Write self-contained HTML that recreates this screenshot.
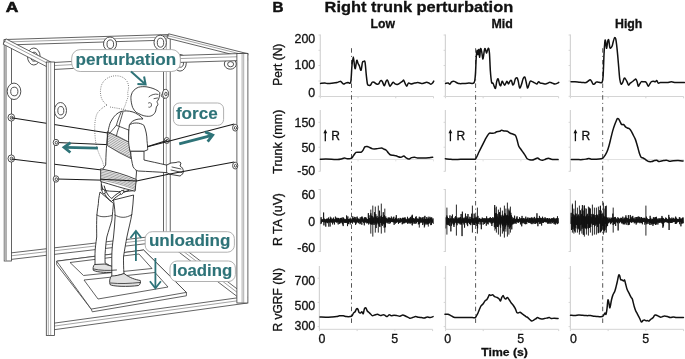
<!DOCTYPE html>
<html><head><meta charset="utf-8"><style>
html,body{margin:0;padding:0;background:#fff;}
svg{display:block;will-change:transform;}
text{font-family:"Liberation Sans",sans-serif;}
</style></head><body>
<svg width="685" height="359" viewBox="0 0 685 359">
<rect width="685" height="359" fill="#fff"/>
<text x="5.8" y="11.9" font-size="14.0" font-weight="bold" fill="#111" text-anchor="start" font-family="Liberation Sans" stroke="#111" stroke-width="0.6" textLength="12.6" lengthAdjust="spacingAndGlyphs">A</text>
<ellipse cx="33.8" cy="56.5" rx="6.3" ry="8.5" fill="#fff" stroke="#3c3c3c" stroke-width="0.9"/><ellipse cx="34.099999999999994" cy="56.7" rx="3.2" ry="4.5" fill="#fff" stroke="#3c3c3c" stroke-width="0.9"/>
<path d="M4.08,45.05 L168.08,40.05 L167.92,34.55 L3.92,39.55 Z" fill="#fff" stroke="#3c3c3c" stroke-width="0.8" stroke-linejoin="miter"/><line x1="3.99" y1="42.03" x2="167.99" y2="37.03" stroke="#666" stroke-width="0.6"/>
<path d="M8.38,259.73 L167.38,241.23 L166.62,234.77 L7.62,253.27 Z" fill="#fff" stroke="#3c3c3c" stroke-width="0.8" stroke-linejoin="miter"/><line x1="7.96" y1="256.18" x2="166.96" y2="237.68" stroke="#666" stroke-width="0.6"/>
<rect x="4.2" y="42" width="7.2" height="219" fill="#fff" stroke="#3c3c3c" stroke-width="0.8"/><rect x="4.6000000000000005" y="42.4" width="1.8" height="218.2" fill="#bbb"/><line x1="6.3" y1="42" x2="6.3" y2="261" stroke="#777" stroke-width="0.6"/>
<rect x="163.4" y="36" width="6.799999999999983" height="205" fill="#fff" stroke="#3c3c3c" stroke-width="0.8"/><line x1="166.3" y1="36" x2="166.3" y2="241" stroke="#777" stroke-width="0.6"/>
<ellipse cx="110.0" cy="44.0" rx="6.5" ry="7.0" fill="#fff" stroke="#3c3c3c" stroke-width="0.9"/><ellipse cx="110.3" cy="44.2" rx="3.3" ry="4.3" fill="#fff" stroke="#3c3c3c" stroke-width="0.9"/>
<ellipse cx="160.2" cy="42.5" rx="6.2" ry="7.3" fill="#fff" stroke="#3c3c3c" stroke-width="0.9"/><ellipse cx="160.5" cy="42.7" rx="3.2" ry="4.5" fill="#fff" stroke="#3c3c3c" stroke-width="0.9"/>
<ellipse cx="14.0" cy="91.3" rx="6.8" ry="8.2" fill="#fff" stroke="#3c3c3c" stroke-width="0.9"/><ellipse cx="14.3" cy="91.5" rx="3.6" ry="4.3" fill="#fff" stroke="#3c3c3c" stroke-width="0.9"/>
<ellipse cx="11.3" cy="117.5" rx="3.3" ry="3.6" fill="#fff" stroke="#3c3c3c" stroke-width="0.9"/><ellipse cx="11.600000000000001" cy="117.7" rx="1.4" ry="1.6" fill="#fff" stroke="#3c3c3c" stroke-width="0.9"/>
<ellipse cx="11.3" cy="158.5" rx="3.3" ry="3.6" fill="#fff" stroke="#3c3c3c" stroke-width="0.9"/><ellipse cx="11.600000000000001" cy="158.7" rx="1.4" ry="1.6" fill="#fff" stroke="#3c3c3c" stroke-width="0.9"/>
<path d="M161,96 L164.5,89.5 L164.5,98.5 Z" fill="#fff" stroke="#3c3c3c" stroke-width="0.8"/>
<ellipse cx="165.6" cy="93.8" rx="2.9" ry="4.4" fill="#fff" stroke="#3c3c3c" stroke-width="0.9"/><ellipse cx="165.9" cy="94.0" rx="1.2" ry="1.8" fill="#fff" stroke="#3c3c3c" stroke-width="0.9"/>
<ellipse cx="166.8" cy="140.5" rx="2.6" ry="3.0" fill="#fff" stroke="#3c3c3c" stroke-width="0.9"/><ellipse cx="167.10000000000002" cy="140.7" rx="1.1" ry="1.3" fill="#fff" stroke="#3c3c3c" stroke-width="0.9"/>
<path d="M107,105 C101,101 99.5,94 101,87 C102.5,80 109,75.8 116,75.8 C123,75.8 128,80 128.5,86 C129,90 127,92 128,95 C128.5,98 126.5,100 126,103 C125,106 124,108 123,110 M107,105 C102,108 98,111 96.5,115 C94.5,121 94.5,128 95,135 C95.5,145 98,152 101,158 C103,162 104,166 104,170 M110,107 C116,108 122,109 126,110" fill="none" stroke="#555" stroke-width="0.8" stroke-dasharray="0.9 1.3"/>
<path d="M56.7,261.2 L143.6,250 L186.4,292.4 L186.4,295.8 L92.3,311.8 L91.2,309.1 L56.7,264.6 Z" fill="#fff" stroke="#3a3a3a" stroke-width="0.8"/>
<path d="M56.7,261.2 L143.6,250 L186.4,292.4 L91.2,309.1 Z" fill="#fff" stroke="#3a3a3a" stroke-width="0.8"/>
<path d="M70,262.5 L139,254 L152,268.5 L83.5,275.5 Z" fill="none" stroke="#3a3a3a" stroke-width="0.8"/>
<path d="M84,280 L155,272.5 L168,287 L98,299 Z" fill="none" stroke="#3a3a3a" stroke-width="0.8"/>
<line x1="11.3" y1="117.8" x2="108" y2="133" stroke="#1a1a1a" stroke-width="1.15"/>
<line x1="56.5" y1="142.5" x2="122.5" y2="145.2" stroke="#1a1a1a" stroke-width="1.15"/>
<line x1="11.3" y1="159.0" x2="106" y2="170.5" stroke="#1a1a1a" stroke-width="1.15"/>
<line x1="56.5" y1="179.0" x2="136.5" y2="181" stroke="#1a1a1a" stroke-width="1.15"/>
<line x1="147" y1="146.7" x2="166.8" y2="140.5" stroke="#1a1a1a" stroke-width="1.15"/>
<path d="M100,192 C99,197 98.4,200 98.4,203.5 C97.5,209 96.7,215 96.7,220.2 C96.5,226 96.7,232 96.7,237 C96,243 95,249 95,253.7 C95,258 95,262 95,266 L113,268 C111,266 107,264 105.1,263 C105,258 105,256 105.1,253.7 C105.5,248 106,242 106.8,237 C108.5,231 110.5,225 111.8,220.2 C112.5,214 113,208 113.5,203.5 Z" fill="#fff" stroke="#2a2a2a" stroke-width="0.9" stroke-linejoin="round"/><path d="M94.5,264.5 C93,266 92.8,269 93.4,270.4 C98,272.5 108,273 116.8,272 C117.5,270 116.5,268 115,267 C111,266 107,265 105,264 Z" fill="#e2e2e2" stroke="#2a2a2a" stroke-width="0.9"/><path d="M113.5,200 C114.5,207 115.1,212 115.1,216.9 C115,224 114,230 113.5,237 C112.5,244 111.8,250 111.8,257 C111.8,264 111.8,270 111.8,277 L124,274 C123.5,268 123.5,262 123.5,257 C124.5,250 125.8,243 126.9,237 C128.5,229 130.8,221 131.9,213.5 C132.7,207 133.3,201 133.6,195 Z" fill="#fff" stroke="#2a2a2a" stroke-width="0.9" stroke-linejoin="round"/><path d="M111.5,276 C109.5,278 109.3,282 110,284.5 C112,286.5 128,287 138.6,285.5 C140.5,284 140.8,282 140.3,280.5 C135,279.5 130,278 124,273.5 C120,275 115,276 111.5,276 Z" fill="#e2e2e2" stroke="#2a2a2a" stroke-width="0.9"/><path d="M110.5,283 C120,284 130,283.5 140,282.5 M93.5,269 C100,270.5 108,270.8 116.5,270" fill="none" stroke="#2a2a2a" stroke-width="0.8" stroke-linecap="round"/><path d="M96.8,215 C100,217 105,217.5 112,215.5 M114.8,215 C120,218 126,218.5 132,214.5" fill="none" stroke="#2a2a2a" stroke-width="0.8" stroke-linecap="round"/><path d="M121,111.5 C117,113 114.5,116 113.3,117.7 C111,121 110,123 109.5,125.3 C108.6,128 108.2,131 108,133 C107,140 106.5,145 106.4,148.3 C106,155 105.8,160 105.7,165 L101.3,171 L101.3,190 C112,192 125,192 135,190.5 L136.5,172 C136,168 135,162 133,157 L130.1,151.3 L129.4,125.3 C131,121 136,118.5 143,119 C141,116 136,113 133,112 C128,110.5 124,110.8 121,111.5 Z" fill="#fff" stroke="#2a2a2a" stroke-width="0.9" stroke-linejoin="round"/><clipPath id="vc"><path d="M107.3,131.7 L118,136.5 L130.7,143 L131,158.5 L119,152.5 L107.3,145.5 Z"/></clipPath><g clip-path="url(#vc)"><line x1="105" y1="114.4" x2="133" y2="127.4" stroke="#444" stroke-width="0.5"/><line x1="105" y1="116.1" x2="133" y2="129.1" stroke="#444" stroke-width="0.5"/><line x1="105" y1="117.8" x2="133" y2="130.8" stroke="#444" stroke-width="0.5"/><line x1="105" y1="119.5" x2="133" y2="132.5" stroke="#444" stroke-width="0.5"/><line x1="105" y1="121.2" x2="133" y2="134.2" stroke="#444" stroke-width="0.5"/><line x1="105" y1="122.9" x2="133" y2="135.9" stroke="#444" stroke-width="0.5"/><line x1="105" y1="124.6" x2="133" y2="137.6" stroke="#444" stroke-width="0.5"/><line x1="105" y1="126.3" x2="133" y2="139.3" stroke="#444" stroke-width="0.5"/><line x1="105" y1="128.0" x2="133" y2="141.0" stroke="#444" stroke-width="0.5"/><line x1="105" y1="129.7" x2="133" y2="142.7" stroke="#444" stroke-width="0.5"/><line x1="105" y1="131.4" x2="133" y2="144.4" stroke="#444" stroke-width="0.5"/><line x1="105" y1="133.1" x2="133" y2="146.1" stroke="#444" stroke-width="0.5"/><line x1="105" y1="134.8" x2="133" y2="147.8" stroke="#444" stroke-width="0.5"/><line x1="105" y1="136.5" x2="133" y2="149.5" stroke="#444" stroke-width="0.5"/><line x1="105" y1="138.2" x2="133" y2="151.2" stroke="#444" stroke-width="0.5"/><line x1="105" y1="139.9" x2="133" y2="152.9" stroke="#444" stroke-width="0.5"/><line x1="105" y1="141.6" x2="133" y2="154.6" stroke="#444" stroke-width="0.5"/><line x1="105" y1="143.3" x2="133" y2="156.3" stroke="#444" stroke-width="0.5"/><line x1="105" y1="145.0" x2="133" y2="158.0" stroke="#444" stroke-width="0.5"/><line x1="105" y1="146.7" x2="133" y2="159.7" stroke="#444" stroke-width="0.5"/><line x1="105" y1="148.4" x2="133" y2="161.4" stroke="#444" stroke-width="0.5"/><line x1="105" y1="150.1" x2="133" y2="163.1" stroke="#444" stroke-width="0.5"/><line x1="105" y1="151.8" x2="133" y2="164.8" stroke="#444" stroke-width="0.5"/><line x1="105" y1="153.5" x2="133" y2="166.5" stroke="#444" stroke-width="0.5"/></g><path d="M107.3,131.7 L118,136.5 L130.7,143 L131,158.5 L119,152.5 L107.3,145.5 Z" fill="none" stroke="#2a2a2a" stroke-width="0.8"/><path d="M121,112.5 C119,117 117.5,121 116.4,125.3 L128.6,130 M116.4,125.3 L109.5,133.5 M123,112 C121.5,117 120,122 119,126 M116.4,136 C117.5,131 118.5,128 119.5,126.5 M128.6,130 L129,142" fill="none" stroke="#2a2a2a" stroke-width="0.8" stroke-linecap="round"/><path d="M100.7,168.8 C113,171 126,175 136.3,179.5 L135,191.2 C123,188.5 111,184.5 100.7,181.5 Z" fill="#fff" stroke="#2a2a2a" stroke-width="0.9" stroke-linejoin="round"/><path d="M100.7,170.4 C113,172.6 126,177.0 136.1,181.0" fill="none" stroke="#555" stroke-width="0.55"/><path d="M100.7,172.0 C113,174.2 126,178.4 136.0,182.4" fill="none" stroke="#555" stroke-width="0.55"/><path d="M100.7,173.6 C113,175.8 126,179.9 135.8,183.9" fill="none" stroke="#555" stroke-width="0.55"/><path d="M100.7,175.2 C113,177.3 126,181.3 135.7,185.3" fill="none" stroke="#555" stroke-width="0.55"/><path d="M100.7,176.7 C113,178.9 126,182.8 135.5,186.8" fill="none" stroke="#555" stroke-width="0.55"/><path d="M100.7,178.3 C113,180.5 126,184.3 135.3,188.3" fill="none" stroke="#555" stroke-width="0.55"/><path d="M100.7,179.9 C113,182.1 126,185.7 135.2,189.7" fill="none" stroke="#555" stroke-width="0.55"/><path d="M101.5,184.5 C103,192 106.5,198.5 111.5,201.5 C115.5,197 121,193 128.5,190.5 M104.2,186 C106,192.5 108.5,196.5 111.8,198.5 C115,195 119,192 124,190" fill="none" stroke="#2a2a2a" stroke-width="1.0" stroke-linecap="round"/><rect x="102.3" y="189.5" width="2.6" height="4" fill="#fff" stroke="#2a2a2a" stroke-width="0.7" transform="rotate(-20 103.6 191.5)"/><rect x="120.5" y="190.5" width="2.6" height="3.6" fill="#fff" stroke="#2a2a2a" stroke-width="0.7" transform="rotate(40 121.8 192.3)"/><path d="M129.4,125.3 C131,123.5 133.5,123 136.3,123 C139.5,123 142,124 143.9,125.3 C146,130 147,136 147,140.6 C147.5,145 147.7,148 147.7,149.8 L143.9,151.3 L130.1,151.3 C129,147 128.6,143 128.6,140.6 C128.6,134 128.8,129 129.4,125.3 Z" fill="#fff" stroke="#2a2a2a" stroke-width="0.9" stroke-linejoin="round"/><path d="M130.6,151.3 C131,157 132,163 133.1,166.8 C134.5,169 136,170.5 138.1,171 C148,171.5 158,172 166.6,172.6 L170,174.3 L180,176 C182,175 183.5,173 183.3,171.8 C183.5,169 182,167 180,166 L181,163 C180,161.5 178.3,161.7 176,162.5 L171,163 L166.6,165.1 C158,163 150,161.5 144,160 L144,151.3 Z" fill="#fff" stroke="#2a2a2a" stroke-width="0.9" stroke-linejoin="round"/><path d="M172,167 L181,169 M171,170 L182,172.5 M166.6,165.1 L166.6,172.6" fill="none" stroke="#2a2a2a" stroke-width="0.8" stroke-linecap="round"/><g transform="translate(0,86.9) scale(1,0.955) translate(0,-88.2)"><path d="M132.7,109.9 C131,105 130.5,99 131.3,96.7 C132,93 135,90 138.3,88.6 C141,87.8 144.5,87.8 147,88.2 C151.5,89 155,90.5 157,91.8 C159,93 160,94 159.8,94.6 C159.6,97 159.4,98.5 159.1,99.5 C158.6,101.5 157.5,102.8 157,103.7 C157.3,105 158.2,106.3 157.8,107.1 C157.3,108 156.6,108.6 156.4,109.2 C156.2,110.5 156,112 155.7,113.4 C155,115.5 154,116.8 152.9,117.6 C151.5,118.6 150,119 148.7,119 C146,119 143.5,118.5 141.7,117.6 C139.5,116.6 137.5,115.5 136.2,114.8 C134.8,113.5 133.5,111.8 132.7,109.9 Z" fill="#fff" stroke="#2a2a2a" stroke-width="0.9" stroke-linejoin="round"/><path d="M148.5,105 C150,104 151.5,105 151.5,107 C151.5,109 150,110 148.8,109.5 M154,100.5 L157.5,99.8 M158,96 C155,95 151,96.5 149,98.5" fill="none" stroke="#2a2a2a" stroke-width="0.8" stroke-linecap="round"/></g>
<line x1="147.5" y1="146.7" x2="234.3" y2="124" stroke="#1a1a1a" stroke-width="1.15"/>
<line x1="100.5" y1="179.3" x2="136.5" y2="181" stroke="#1a1a1a" stroke-width="1.15"/>
<line x1="136.5" y1="181" x2="168.3" y2="174.3" stroke="#1a1a1a" stroke-width="1.15"/>
<line x1="168.3" y1="174.3" x2="234.3" y2="162" stroke="#1a1a1a" stroke-width="1.15"/>
<ellipse cx="180.0" cy="62.8" rx="6.3" ry="8.3" fill="#fff" stroke="#3c3c3c" stroke-width="0.9"/><ellipse cx="180.3" cy="63.0" rx="3.2" ry="4.2" fill="#fff" stroke="#3c3c3c" stroke-width="0.9"/>
<ellipse cx="230.3" cy="64.0" rx="6.0" ry="5.2" fill="#fff" stroke="#3c3c3c" stroke-width="0.9"/><ellipse cx="230.60000000000002" cy="64.2" rx="3.0" ry="2.6" fill="#fff" stroke="#3c3c3c" stroke-width="0.9"/>
<ellipse cx="60.5" cy="110.5" rx="6.0" ry="8.0" fill="#fff" stroke="#3c3c3c" stroke-width="0.9"/><ellipse cx="60.8" cy="110.7" rx="3.0" ry="4.2" fill="#fff" stroke="#3c3c3c" stroke-width="0.9"/>
<path d="M3.12,44.17 L49.62,68.17 L52.38,62.83 L5.88,38.83 Z" fill="#fff" stroke="#3c3c3c" stroke-width="0.8" stroke-linejoin="miter"/><line x1="4.64" y1="41.23" x2="51.14" y2="65.23" stroke="#666" stroke-width="0.6"/>
<path d="M167.45,38.18 L246.95,58.18 L248.05,53.82 L168.55,33.82 Z" fill="#fff" stroke="#3c3c3c" stroke-width="0.8" stroke-linejoin="miter"/><line x1="168.05" y1="35.78" x2="247.55" y2="55.78" stroke="#666" stroke-width="0.6"/>
<path d="M50.19,69.69 L181.19,62.39 L180.81,55.41 L49.81,62.71 Z" fill="#fff" stroke="#3c3c3c" stroke-width="0.8" stroke-linejoin="miter"/><line x1="49.98" y1="65.85" x2="180.98" y2="58.55" stroke="#666" stroke-width="0.6"/>
<path d="M180.11,62.40 L247.61,60.30 L247.39,53.30 L179.89,55.40 Z" fill="#fff" stroke="#3c3c3c" stroke-width="0.8" stroke-linejoin="miter"/><line x1="179.99" y1="58.55" x2="247.49" y2="56.45" stroke="#666" stroke-width="0.6"/>
<path d="M166.18,242.39 L244.18,301.89 L247.82,297.11 L169.82,237.61 Z" fill="#fff" stroke="#3c3c3c" stroke-width="0.8" stroke-linejoin="miter"/><line x1="168.18" y1="239.76" x2="246.18" y2="299.26" stroke="#666" stroke-width="0.6"/>
<path d="M50.44,330.22 L247.44,303.02 L246.56,296.58 L49.56,323.78 Z" fill="#fff" stroke="#3c3c3c" stroke-width="0.8" stroke-linejoin="miter"/><line x1="49.96" y1="326.68" x2="246.96" y2="299.48" stroke="#666" stroke-width="0.6"/>
<rect x="46.3" y="62" width="8.100000000000001" height="273.5" fill="#fff" stroke="#3c3c3c" stroke-width="0.8"/><line x1="48.3" y1="62" x2="48.3" y2="335.5" stroke="#777" stroke-width="0.6"/><line x1="50.7" y1="62" x2="50.7" y2="335.5" stroke="#777" stroke-width="0.6"/>
<rect x="236.9" y="53.5" width="11.0" height="249.5" fill="#fff" stroke="#3c3c3c" stroke-width="0.8"/><line x1="242.1" y1="53.5" x2="242.1" y2="303" stroke="#777" stroke-width="0.6"/><line x1="243.7" y1="53.5" x2="243.7" y2="303" stroke="#777" stroke-width="0.6"/>
<ellipse cx="56.0" cy="142.5" rx="2.8" ry="3.2" fill="#fff" stroke="#3c3c3c" stroke-width="0.9"/><ellipse cx="56.3" cy="142.7" rx="1.2" ry="1.4" fill="#fff" stroke="#3c3c3c" stroke-width="0.9"/>
<ellipse cx="56.0" cy="179.0" rx="2.8" ry="3.2" fill="#fff" stroke="#3c3c3c" stroke-width="0.9"/><ellipse cx="56.3" cy="179.2" rx="1.2" ry="1.4" fill="#fff" stroke="#3c3c3c" stroke-width="0.9"/>
<ellipse cx="235.2" cy="127.7" rx="2.6" ry="3.4" fill="#fff" stroke="#3c3c3c" stroke-width="0.9"/><ellipse cx="235.5" cy="127.9" rx="1.1" ry="1.4" fill="#fff" stroke="#3c3c3c" stroke-width="0.9"/>
<ellipse cx="235.2" cy="165.6" rx="2.6" ry="3.4" fill="#fff" stroke="#3c3c3c" stroke-width="0.9"/><ellipse cx="235.5" cy="165.79999999999998" rx="1.1" ry="1.4" fill="#fff" stroke="#3c3c3c" stroke-width="0.9"/>
<rect x="71.7" y="49.6" width="108.60000000000001" height="21.9" rx="8.5" ry="8.5" fill="#fff" stroke="#a8a8a8" stroke-width="0.9"/><text x="75.6" y="64.5" font-size="16" font-weight="bold" fill="#2e7378" text-anchor="start" font-family="Liberation Sans" stroke="#2e7378" stroke-width="0.12" textLength="100.5" lengthAdjust="spacingAndGlyphs">perturbation</text>
<rect x="173.4" y="103.0" width="50.19999999999999" height="22.400000000000006" rx="6" ry="6" fill="#fff" stroke="#a8a8a8" stroke-width="0.9"/><text x="175.9" y="119.3" font-size="16" font-weight="bold" fill="#2e7378" text-anchor="start" font-family="Liberation Sans" stroke="#2e7378" stroke-width="0.12" textLength="41.8" lengthAdjust="spacingAndGlyphs">force</text>
<rect x="145.2" y="231.7" width="89.20000000000002" height="20.5" rx="7" ry="7" fill="#fff" stroke="#a8a8a8" stroke-width="0.9"/><text x="148.9" y="246.3" font-size="16" font-weight="bold" fill="#2e7378" text-anchor="start" font-family="Liberation Sans" stroke="#2e7378" stroke-width="0.12" textLength="81.6" lengthAdjust="spacingAndGlyphs">unloading</text>
<rect x="170.0" y="261.0" width="65.4" height="20.5" rx="7" ry="7" fill="#fff" stroke="#a8a8a8" stroke-width="0.9"/><text x="172.6" y="276.4" font-size="16" font-weight="bold" fill="#2e7378" text-anchor="start" font-family="Liberation Sans" stroke="#2e7378" stroke-width="0.12" textLength="59.7" lengthAdjust="spacingAndGlyphs">loading</text>
<line x1="131" y1="71.5" x2="145.00" y2="83.97" stroke="#2e7378" stroke-width="2.0" stroke-linecap="butt"/><path d="M137.42,83.91 L145.60,84.50 L144.07,76.44" fill="none" stroke="#2e7378" stroke-width="2.0" stroke-linejoin="miter" stroke-linecap="butt"/>
<line x1="97.9" y1="148.1" x2="64.80" y2="147.42" stroke="#2e7378" stroke-width="2.8" stroke-linecap="butt"/><path d="M70.60,142.54 L64.00,147.40 L70.40,152.53" fill="none" stroke="#2e7378" stroke-width="2.8" stroke-linejoin="miter" stroke-linecap="butt"/>
<line x1="179.2" y1="143.8" x2="211.93" y2="135.30" stroke="#2e7378" stroke-width="2.8" stroke-linecap="butt"/><path d="M207.67,141.57 L212.70,135.10 L205.15,131.89" fill="none" stroke="#2e7378" stroke-width="2.8" stroke-linejoin="miter" stroke-linecap="butt"/>
<line x1="135.9" y1="261" x2="135.90" y2="231.80" stroke="#2e7378" stroke-width="1.8" stroke-linecap="butt"/><path d="M141.40,238.00 L135.90,231.00 L130.40,238.00" fill="none" stroke="#2e7378" stroke-width="1.8" stroke-linejoin="miter" stroke-linecap="butt"/>
<line x1="155.4" y1="258" x2="155.40" y2="287.50" stroke="#2e7378" stroke-width="1.8" stroke-linecap="butt"/><path d="M149.90,281.30 L155.40,288.30 L160.90,281.30" fill="none" stroke="#2e7378" stroke-width="1.8" stroke-linejoin="miter" stroke-linecap="butt"/>
<text x="272.4" y="11.8" font-size="15" font-weight="bold" fill="#111" text-anchor="start" font-family="Liberation Sans" stroke="#111" stroke-width="0.5" textLength="11.0" lengthAdjust="spacingAndGlyphs">B</text>
<text x="324.6" y="11.8" font-size="15" font-weight="bold" fill="#111" text-anchor="start" font-family="Liberation Sans" stroke="#111" stroke-width="0.3" textLength="188.6" lengthAdjust="spacingAndGlyphs">Right trunk perturbation</text>
<text x="370.6" y="27.7" font-size="12.1" font-weight="bold" fill="#111" text-anchor="start" font-family="Liberation Sans" stroke="#111" stroke-width="0.3" textLength="24.4" lengthAdjust="spacingAndGlyphs">Low</text>
<text x="491.5" y="27.7" font-size="12.1" font-weight="bold" fill="#111" text-anchor="start" font-family="Liberation Sans" stroke="#111" stroke-width="0.3" textLength="21.3" lengthAdjust="spacingAndGlyphs">Mid</text>
<text x="615.0" y="27.7" font-size="12.1" font-weight="bold" fill="#111" text-anchor="start" font-family="Liberation Sans" stroke="#111" stroke-width="0.3" textLength="27.4" lengthAdjust="spacingAndGlyphs">High</text>
<text x="282.2" y="64.7" font-size="12" font-weight="normal" fill="#111" text-anchor="middle" font-family="Liberation Sans" stroke="#111" stroke-width="0.3" textLength="42.0" lengthAdjust="spacingAndGlyphs" transform="rotate(-90 282.2 64.7)">Pert (N)</text>
<text x="282.2" y="141.7" font-size="12" font-weight="normal" fill="#111" text-anchor="middle" font-family="Liberation Sans" stroke="#111" stroke-width="0.3" textLength="64.0" lengthAdjust="spacingAndGlyphs" transform="rotate(-90 282.2 141.7)">Trunk (mm)</text>
<text x="282.2" y="219.5" font-size="12" font-weight="normal" fill="#111" text-anchor="middle" font-family="Liberation Sans" stroke="#111" stroke-width="0.3" textLength="53.0" lengthAdjust="spacingAndGlyphs" transform="rotate(-90 282.2 219.5)">R TA (uV)</text>
<text x="282.2" y="299.8" font-size="12" font-weight="normal" fill="#111" text-anchor="middle" font-family="Liberation Sans" stroke="#111" stroke-width="0.3" textLength="63.5" lengthAdjust="spacingAndGlyphs" transform="rotate(-90 282.2 299.8)">R vGRF (N)</text>
<text x="315.2" y="42.6" font-size="12.4" font-weight="normal" fill="#111" text-anchor="end" font-family="Liberation Sans" stroke="#111" stroke-width="0.3">200</text>
<text x="315.2" y="69.4" font-size="12.4" font-weight="normal" fill="#111" text-anchor="end" font-family="Liberation Sans" stroke="#111" stroke-width="0.3">100</text>
<text x="315.2" y="96.60000000000001" font-size="12.4" font-weight="normal" fill="#111" text-anchor="end" font-family="Liberation Sans" stroke="#111" stroke-width="0.3">0</text>
<text x="315.2" y="127.0" font-size="12.4" font-weight="normal" fill="#111" text-anchor="end" font-family="Liberation Sans" stroke="#111" stroke-width="0.3">150</text>
<text x="315.2" y="151.6" font-size="12.4" font-weight="normal" fill="#111" text-anchor="end" font-family="Liberation Sans" stroke="#111" stroke-width="0.3">50</text>
<text x="315.2" y="175.3" font-size="12.4" font-weight="normal" fill="#111" text-anchor="end" font-family="Liberation Sans" stroke="#111" stroke-width="0.3">-50</text>
<text x="315.2" y="198.9" font-size="12.4" font-weight="normal" fill="#111" text-anchor="end" font-family="Liberation Sans" stroke="#111" stroke-width="0.3">60</text>
<text x="315.2" y="225.6" font-size="12.4" font-weight="normal" fill="#111" text-anchor="end" font-family="Liberation Sans" stroke="#111" stroke-width="0.3">0</text>
<text x="315.2" y="252.4" font-size="12.4" font-weight="normal" fill="#111" text-anchor="end" font-family="Liberation Sans" stroke="#111" stroke-width="0.3">-60</text>
<text x="315.2" y="284.9" font-size="12.4" font-weight="normal" fill="#111" text-anchor="end" font-family="Liberation Sans" stroke="#111" stroke-width="0.3">700</text>
<text x="315.2" y="310.09999999999997" font-size="12.4" font-weight="normal" fill="#111" text-anchor="end" font-family="Liberation Sans" stroke="#111" stroke-width="0.3">500</text>
<text x="315.2" y="330.09999999999997" font-size="12.4" font-weight="normal" fill="#111" text-anchor="end" font-family="Liberation Sans" stroke="#111" stroke-width="0.3">300</text>
<text x="321.9" y="342.6" font-size="12.4" font-weight="normal" fill="#111" text-anchor="middle" font-family="Liberation Sans" stroke="#111" stroke-width="0.3">0</text>
<text x="394.7" y="342.6" font-size="12.4" font-weight="normal" fill="#111" text-anchor="middle" font-family="Liberation Sans" stroke="#111" stroke-width="0.3">5</text>
<text x="447.7" y="342.6" font-size="12.4" font-weight="normal" fill="#111" text-anchor="middle" font-family="Liberation Sans" stroke="#111" stroke-width="0.3">0</text>
<text x="520.8" y="342.6" font-size="12.4" font-weight="normal" fill="#111" text-anchor="middle" font-family="Liberation Sans" stroke="#111" stroke-width="0.3">5</text>
<text x="573.4" y="342.6" font-size="12.4" font-weight="normal" fill="#111" text-anchor="middle" font-family="Liberation Sans" stroke="#111" stroke-width="0.3">0</text>
<text x="645.6999999999999" y="342.6" font-size="12.4" font-weight="normal" fill="#111" text-anchor="middle" font-family="Liberation Sans" stroke="#111" stroke-width="0.3">5</text>
<text x="504.6" y="355.8" font-size="11.5" font-weight="bold" fill="#111" text-anchor="middle" font-family="Liberation Sans" stroke="#111" stroke-width="0.3" textLength="46.5" lengthAdjust="spacingAndGlyphs">Time (s)</text>
<line x1="320.3" y1="34.5" x2="320.3" y2="96.5" stroke="#d4d4d4" stroke-width="1.2"/><line x1="318.5" y1="35" x2="320.3" y2="35" stroke="#d4d4d4" stroke-width="1"/><line x1="318.5" y1="50.3" x2="320.3" y2="50.3" stroke="#d4d4d4" stroke-width="1"/><line x1="318.5" y1="65.5" x2="320.3" y2="65.5" stroke="#d4d4d4" stroke-width="1"/><line x1="318.5" y1="81" x2="320.3" y2="81" stroke="#d4d4d4" stroke-width="1"/><line x1="318.5" y1="96.3" x2="320.3" y2="96.3" stroke="#d4d4d4" stroke-width="1"/>
<line x1="320.3" y1="96.5" x2="433.5" y2="96.5" stroke="#d4d4d4" stroke-width="1"/><line x1="320.3" y1="96.5" x2="320.3" y2="98.3" stroke="#d4d4d4" stroke-width="1"/><line x1="358.03333333333336" y1="96.5" x2="358.03333333333336" y2="98.3" stroke="#d4d4d4" stroke-width="1"/><line x1="395.76666666666665" y1="96.5" x2="395.76666666666665" y2="98.3" stroke="#d4d4d4" stroke-width="1"/><line x1="433.5" y1="96.5" x2="433.5" y2="98.3" stroke="#d4d4d4" stroke-width="1"/>
<line x1="320.3" y1="110.0" x2="320.3" y2="171.5" stroke="#d4d4d4" stroke-width="1.2"/><line x1="318.5" y1="122.3" x2="320.3" y2="122.3" stroke="#d4d4d4" stroke-width="1"/><line x1="318.5" y1="147.2" x2="320.3" y2="147.2" stroke="#d4d4d4" stroke-width="1"/><line x1="318.5" y1="171.3" x2="320.3" y2="171.3" stroke="#d4d4d4" stroke-width="1"/>
<line x1="320.3" y1="159.5" x2="433.5" y2="159.5" stroke="#e2e2e2" stroke-width="1.2"/>
<line x1="358.0" y1="159.5" x2="358.0" y2="161.4" stroke="#e2e2e2" stroke-width="1"/>
<line x1="395.8" y1="159.5" x2="395.8" y2="161.4" stroke="#e2e2e2" stroke-width="1"/>
<line x1="433.5" y1="159.5" x2="433.5" y2="161.4" stroke="#e2e2e2" stroke-width="1"/>
<line x1="320.3" y1="189.0" x2="320.3" y2="252.0" stroke="#d4d4d4" stroke-width="1.2"/><line x1="318.5" y1="189.5" x2="320.3" y2="189.5" stroke="#d4d4d4" stroke-width="1"/><line x1="318.5" y1="251.5" x2="320.3" y2="251.5" stroke="#d4d4d4" stroke-width="1"/>
<line x1="445.4" y1="34.5" x2="445.4" y2="96.5" stroke="#d4d4d4" stroke-width="1.2"/><line x1="443.59999999999997" y1="35" x2="445.4" y2="35" stroke="#d4d4d4" stroke-width="1"/><line x1="443.59999999999997" y1="50.3" x2="445.4" y2="50.3" stroke="#d4d4d4" stroke-width="1"/><line x1="443.59999999999997" y1="65.5" x2="445.4" y2="65.5" stroke="#d4d4d4" stroke-width="1"/><line x1="443.59999999999997" y1="81" x2="445.4" y2="81" stroke="#d4d4d4" stroke-width="1"/><line x1="443.59999999999997" y1="96.3" x2="445.4" y2="96.3" stroke="#d4d4d4" stroke-width="1"/>
<line x1="445.4" y1="96.5" x2="558.6" y2="96.5" stroke="#d4d4d4" stroke-width="1"/><line x1="445.4" y1="96.5" x2="445.4" y2="98.3" stroke="#d4d4d4" stroke-width="1"/><line x1="483.1333333333333" y1="96.5" x2="483.1333333333333" y2="98.3" stroke="#d4d4d4" stroke-width="1"/><line x1="520.8666666666667" y1="96.5" x2="520.8666666666667" y2="98.3" stroke="#d4d4d4" stroke-width="1"/><line x1="558.6" y1="96.5" x2="558.6" y2="98.3" stroke="#d4d4d4" stroke-width="1"/>
<line x1="445.4" y1="110.0" x2="445.4" y2="171.5" stroke="#d4d4d4" stroke-width="1.2"/><line x1="443.59999999999997" y1="122.3" x2="445.4" y2="122.3" stroke="#d4d4d4" stroke-width="1"/><line x1="443.59999999999997" y1="147.2" x2="445.4" y2="147.2" stroke="#d4d4d4" stroke-width="1"/><line x1="443.59999999999997" y1="171.3" x2="445.4" y2="171.3" stroke="#d4d4d4" stroke-width="1"/>
<line x1="445.4" y1="159.5" x2="558.6" y2="159.5" stroke="#e2e2e2" stroke-width="1.2"/>
<line x1="483.1" y1="159.5" x2="483.1" y2="161.4" stroke="#e2e2e2" stroke-width="1"/>
<line x1="520.9" y1="159.5" x2="520.9" y2="161.4" stroke="#e2e2e2" stroke-width="1"/>
<line x1="558.6" y1="159.5" x2="558.6" y2="161.4" stroke="#e2e2e2" stroke-width="1"/>
<line x1="445.4" y1="189.0" x2="445.4" y2="252.0" stroke="#d4d4d4" stroke-width="1.2"/><line x1="443.59999999999997" y1="189.5" x2="445.4" y2="189.5" stroke="#d4d4d4" stroke-width="1"/><line x1="443.59999999999997" y1="251.5" x2="445.4" y2="251.5" stroke="#d4d4d4" stroke-width="1"/>
<line x1="570.4" y1="34.5" x2="570.4" y2="96.5" stroke="#d4d4d4" stroke-width="1.2"/><line x1="568.6" y1="35" x2="570.4" y2="35" stroke="#d4d4d4" stroke-width="1"/><line x1="568.6" y1="50.3" x2="570.4" y2="50.3" stroke="#d4d4d4" stroke-width="1"/><line x1="568.6" y1="65.5" x2="570.4" y2="65.5" stroke="#d4d4d4" stroke-width="1"/><line x1="568.6" y1="81" x2="570.4" y2="81" stroke="#d4d4d4" stroke-width="1"/><line x1="568.6" y1="96.3" x2="570.4" y2="96.3" stroke="#d4d4d4" stroke-width="1"/>
<line x1="570.4" y1="96.5" x2="683.6" y2="96.5" stroke="#d4d4d4" stroke-width="1"/><line x1="570.4" y1="96.5" x2="570.4" y2="98.3" stroke="#d4d4d4" stroke-width="1"/><line x1="608.1333333333333" y1="96.5" x2="608.1333333333333" y2="98.3" stroke="#d4d4d4" stroke-width="1"/><line x1="645.8666666666667" y1="96.5" x2="645.8666666666667" y2="98.3" stroke="#d4d4d4" stroke-width="1"/><line x1="683.6" y1="96.5" x2="683.6" y2="98.3" stroke="#d4d4d4" stroke-width="1"/>
<line x1="570.4" y1="110.0" x2="570.4" y2="171.5" stroke="#d4d4d4" stroke-width="1.2"/><line x1="568.6" y1="122.3" x2="570.4" y2="122.3" stroke="#d4d4d4" stroke-width="1"/><line x1="568.6" y1="147.2" x2="570.4" y2="147.2" stroke="#d4d4d4" stroke-width="1"/><line x1="568.6" y1="171.3" x2="570.4" y2="171.3" stroke="#d4d4d4" stroke-width="1"/>
<line x1="570.4" y1="159.5" x2="683.6" y2="159.5" stroke="#e2e2e2" stroke-width="1.2"/>
<line x1="608.1" y1="159.5" x2="608.1" y2="161.4" stroke="#e2e2e2" stroke-width="1"/>
<line x1="645.9" y1="159.5" x2="645.9" y2="161.4" stroke="#e2e2e2" stroke-width="1"/>
<line x1="683.6" y1="159.5" x2="683.6" y2="161.4" stroke="#e2e2e2" stroke-width="1"/>
<line x1="570.4" y1="189.0" x2="570.4" y2="252.0" stroke="#d4d4d4" stroke-width="1.2"/><line x1="568.6" y1="189.5" x2="570.4" y2="189.5" stroke="#d4d4d4" stroke-width="1"/><line x1="568.6" y1="251.5" x2="570.4" y2="251.5" stroke="#d4d4d4" stroke-width="1"/>
<line x1="319.4" y1="266.0" x2="319.4" y2="329.3" stroke="#d4d4d4" stroke-width="1.2"/><line x1="317.59999999999997" y1="278.2" x2="319.4" y2="278.2" stroke="#d4d4d4" stroke-width="1"/><line x1="317.59999999999997" y1="302.4" x2="319.4" y2="302.4" stroke="#d4d4d4" stroke-width="1"/><line x1="317.59999999999997" y1="326.6" x2="319.4" y2="326.6" stroke="#d4d4d4" stroke-width="1"/>
<line x1="319.4" y1="329.3" x2="432.59999999999997" y2="329.3" stroke="#d4d4d4" stroke-width="1"/><line x1="319.4" y1="329.3" x2="319.4" y2="331.1" stroke="#d4d4d4" stroke-width="1"/><line x1="357.1333333333333" y1="329.3" x2="357.1333333333333" y2="331.1" stroke="#d4d4d4" stroke-width="1"/><line x1="394.8666666666667" y1="329.3" x2="394.8666666666667" y2="331.1" stroke="#d4d4d4" stroke-width="1"/><line x1="432.59999999999997" y1="329.3" x2="432.59999999999997" y2="331.1" stroke="#d4d4d4" stroke-width="1"/>
<line x1="445.5" y1="266.0" x2="445.5" y2="329.3" stroke="#d4d4d4" stroke-width="1.2"/><line x1="443.7" y1="278.2" x2="445.5" y2="278.2" stroke="#d4d4d4" stroke-width="1"/><line x1="443.7" y1="302.4" x2="445.5" y2="302.4" stroke="#d4d4d4" stroke-width="1"/><line x1="443.7" y1="326.6" x2="445.5" y2="326.6" stroke="#d4d4d4" stroke-width="1"/>
<line x1="445.5" y1="329.3" x2="558.7" y2="329.3" stroke="#d4d4d4" stroke-width="1"/><line x1="445.5" y1="329.3" x2="445.5" y2="331.1" stroke="#d4d4d4" stroke-width="1"/><line x1="483.23333333333335" y1="329.3" x2="483.23333333333335" y2="331.1" stroke="#d4d4d4" stroke-width="1"/><line x1="520.9666666666667" y1="329.3" x2="520.9666666666667" y2="331.1" stroke="#d4d4d4" stroke-width="1"/><line x1="558.7" y1="329.3" x2="558.7" y2="331.1" stroke="#d4d4d4" stroke-width="1"/>
<line x1="570.4" y1="266.0" x2="570.4" y2="329.3" stroke="#d4d4d4" stroke-width="1.2"/><line x1="568.6" y1="278.2" x2="570.4" y2="278.2" stroke="#d4d4d4" stroke-width="1"/><line x1="568.6" y1="302.4" x2="570.4" y2="302.4" stroke="#d4d4d4" stroke-width="1"/><line x1="568.6" y1="326.6" x2="570.4" y2="326.6" stroke="#d4d4d4" stroke-width="1"/>
<line x1="570.4" y1="329.3" x2="683.6" y2="329.3" stroke="#d4d4d4" stroke-width="1"/><line x1="570.4" y1="329.3" x2="570.4" y2="331.1" stroke="#d4d4d4" stroke-width="1"/><line x1="608.1333333333333" y1="329.3" x2="608.1333333333333" y2="331.1" stroke="#d4d4d4" stroke-width="1"/><line x1="645.8666666666667" y1="329.3" x2="645.8666666666667" y2="331.1" stroke="#d4d4d4" stroke-width="1"/><line x1="683.6" y1="329.3" x2="683.6" y2="331.1" stroke="#d4d4d4" stroke-width="1"/>
<line x1="351.5" y1="46.6" x2="351.5" y2="326" stroke="#555" stroke-width="1" stroke-dasharray="4.5 3.2 1 3.05" stroke-dashoffset="-1.6"/>
<line x1="475.6" y1="46.6" x2="475.6" y2="326" stroke="#555" stroke-width="1" stroke-dasharray="4.5 3.2 1 3.05" stroke-dashoffset="-1.6"/>
<line x1="602.7" y1="46.6" x2="602.7" y2="326" stroke="#555" stroke-width="1" stroke-dasharray="4.5 3.2 1 3.05" stroke-dashoffset="-1.6"/>
<path d="M320.58,83.45 C321.30,83.39 323.60,83.07 324.89,83.10 C326.18,83.13 326.90,83.65 328.34,83.62 C329.77,83.59 332.07,83.10 333.50,82.93 C334.94,82.76 335.86,82.84 336.95,82.59 C338.04,82.33 339.33,81.49 340.05,81.38 C340.77,81.26 340.68,81.47 341.26,81.90 C341.83,82.33 342.78,83.76 343.50,83.97 C344.21,84.17 344.79,83.36 345.56,83.10 C346.34,82.84 347.29,82.59 348.15,82.41 C349.01,82.24 350.10,84.83 350.73,82.07 C351.36,79.31 351.51,70.06 351.94,65.86 C352.37,61.67 352.88,56.90 353.31,56.90 C353.75,56.90 354.18,63.94 354.52,65.86 C354.86,67.79 355.01,69.37 355.38,68.45 C355.75,67.53 356.33,61.21 356.76,60.34 C357.19,59.48 357.53,62.36 357.97,63.28 C358.40,64.20 358.83,64.71 359.34,65.86 C359.86,67.01 360.55,70.75 361.07,70.17 C361.58,69.60 362.01,63.85 362.44,62.41 C362.88,60.98 363.22,61.61 363.65,61.55 C364.08,61.49 364.60,59.91 365.03,62.07 C365.46,64.22 365.83,70.83 366.23,74.48 C366.64,78.13 367.01,82.18 367.44,83.97 C367.87,85.75 368.30,84.97 368.82,85.17 C369.34,85.37 369.97,85.66 370.54,85.17 C371.12,84.68 371.69,82.73 372.26,82.24 C372.84,81.75 373.27,81.95 373.99,82.24 C374.70,82.53 375.80,83.68 376.57,83.97 C377.35,84.25 378.06,84.40 378.64,83.97 C379.21,83.53 379.56,81.95 380.02,81.38 C380.47,80.80 380.96,80.37 381.39,80.52 C381.82,80.66 382.11,81.38 382.60,82.24 C383.09,83.10 383.75,85.83 384.32,85.69 C384.90,85.55 385.53,82.33 386.04,81.38 C386.56,80.43 386.99,79.71 387.42,80.00 C387.85,80.29 388.20,82.07 388.63,83.10 C389.06,84.14 389.49,86.06 390.01,86.21 C390.52,86.35 391.18,84.63 391.73,83.97 C392.28,83.30 392.71,82.24 393.28,82.24 C393.85,82.24 394.51,83.59 395.17,83.97 C395.84,84.34 396.47,84.63 397.24,84.48 C398.02,84.34 398.96,83.62 399.83,83.10 C400.69,82.59 401.78,81.87 402.41,81.38 C403.04,80.89 403.19,79.89 403.62,80.17 C404.05,80.46 404.48,82.10 404.99,83.10 C405.51,84.11 406.14,86.21 406.72,86.21 C407.29,86.21 407.72,83.48 408.44,83.10 C409.16,82.73 410.02,83.97 411.02,83.97 C412.03,83.97 413.32,83.33 414.47,83.10 C415.62,82.87 416.77,82.53 417.91,82.59 C419.06,82.64 420.35,83.36 421.36,83.45 C422.36,83.53 423.08,83.30 423.94,83.10 C424.80,82.90 425.67,82.24 426.53,82.24 C427.39,82.24 428.39,82.76 429.11,83.10 C429.83,83.45 430.26,84.31 430.83,84.31 C431.41,84.31 432.07,83.65 432.56,83.10 C433.04,82.56 433.56,81.38 433.76,81.03" fill="none" stroke="#111" stroke-width="1.5" stroke-linejoin="round" stroke-linecap="round" />
<path d="M445.58,83.45 C446.01,83.39 447.45,82.99 448.17,83.10 C448.89,83.22 449.32,84.34 449.89,84.14 C450.46,83.94 450.90,82.36 451.61,81.90 C452.33,81.44 453.34,81.24 454.20,81.38 C455.06,81.52 455.92,82.39 456.78,82.76 C457.64,83.13 458.22,83.51 459.37,83.62 C460.51,83.74 462.09,83.53 463.67,83.45 C465.25,83.36 467.12,83.22 468.84,83.10 C470.56,82.99 472.92,84.20 474.01,82.76 C475.10,81.32 475.01,78.74 475.39,74.48 C475.76,70.23 475.96,61.26 476.25,57.24 C476.53,53.22 476.82,50.78 477.11,50.34 C477.40,49.91 477.68,54.80 477.97,54.66 C478.26,54.51 478.54,49.05 478.83,49.48 C479.12,49.91 479.41,57.39 479.69,57.24 C479.98,57.10 480.21,49.48 480.55,48.62 C480.90,47.76 481.36,50.34 481.76,52.07 C482.16,53.79 482.53,59.25 482.97,58.97 C483.40,58.68 483.97,52.07 484.34,50.34 C484.72,48.62 484.86,48.19 485.20,48.62 C485.55,49.05 486.04,52.64 486.41,52.93 C486.78,53.22 487.07,51.12 487.44,50.34 C487.82,49.57 488.31,47.70 488.65,48.28 C488.99,48.85 489.22,50.00 489.51,53.79 C489.80,57.59 490.03,66.29 490.37,71.03 C490.72,75.78 491.15,80.23 491.58,82.24 C492.01,84.25 492.50,82.39 492.96,83.10 C493.42,83.82 493.90,85.69 494.34,86.55 C494.77,87.41 495.14,89.14 495.54,88.28 C495.94,87.41 496.32,82.96 496.75,81.38 C497.18,79.80 497.67,78.36 498.12,78.79 C498.58,79.22 499.07,82.82 499.50,83.97 C499.93,85.11 500.28,86.12 500.71,85.69 C501.14,85.26 501.66,81.81 502.09,81.38 C502.52,80.95 502.86,82.47 503.29,83.10 C503.72,83.74 504.24,85.17 504.67,85.17 C505.10,85.17 505.47,83.74 505.88,83.10 C506.28,82.47 506.65,81.24 507.08,81.38 C507.51,81.52 508.00,83.97 508.46,83.97 C508.92,83.97 509.35,81.95 509.84,81.38 C510.33,80.80 510.90,79.94 511.39,80.52 C511.88,81.09 512.31,84.40 512.77,84.83 C513.23,85.26 513.71,84.11 514.15,83.10 C514.58,82.10 514.86,79.66 515.35,78.79 C515.84,77.93 516.59,77.50 517.07,77.93 C517.56,78.36 517.85,79.71 518.28,81.38 C518.71,83.05 519.14,87.36 519.66,87.93 C520.17,88.51 520.81,86.35 521.38,84.83 C521.95,83.30 522.53,80.09 523.10,78.79 C523.68,77.50 524.31,76.49 524.83,77.07 C525.34,77.64 525.77,80.43 526.20,82.24 C526.63,84.05 526.98,87.44 527.41,87.93 C527.84,88.42 528.33,86.26 528.79,85.17 C529.25,84.08 529.68,82.01 530.17,81.38 C530.65,80.75 531.17,81.24 531.72,81.38 C532.26,81.52 532.87,81.95 533.44,82.24 C534.01,82.53 534.59,82.82 535.16,83.10 C535.74,83.39 536.31,84.20 536.88,83.97 C537.46,83.74 538.03,81.87 538.61,81.72 C539.18,81.58 539.61,82.82 540.33,83.10 C541.05,83.39 542.05,83.30 542.91,83.45 C543.78,83.59 544.64,84.02 545.50,83.97 C546.36,83.91 547.36,83.39 548.08,83.10 C548.80,82.82 549.09,82.24 549.80,82.24 C550.52,82.24 551.53,82.82 552.39,83.10 C553.25,83.39 554.11,83.97 554.97,83.97 C555.83,83.97 556.92,83.36 557.56,83.10 C558.19,82.84 558.56,82.53 558.76,82.41" fill="none" stroke="#111" stroke-width="1.5" stroke-linejoin="round" stroke-linecap="round" />
<path d="M571.01,81.75 C571.68,81.75 573.69,81.68 575.03,81.75 C576.37,81.82 577.70,82.02 579.04,82.15 C580.38,82.29 581.88,82.49 583.05,82.55 C584.23,82.62 585.23,82.79 586.06,82.55 C586.90,82.32 587.40,81.62 588.07,81.15 C588.74,80.68 589.51,79.74 590.08,79.74 C590.65,79.74 590.98,80.41 591.48,81.15 C591.98,81.88 592.55,83.72 593.09,84.16 C593.62,84.59 594.19,84.09 594.69,83.76 C595.20,83.42 595.53,82.42 596.10,82.15 C596.67,81.88 597.44,82.08 598.11,82.15 C598.77,82.22 599.44,82.55 600.11,82.55 C600.78,82.55 601.62,83.22 602.12,82.15 C602.62,81.08 602.79,81.15 603.12,76.13 C603.46,71.12 603.79,58.08 604.13,52.07 C604.46,46.05 604.80,41.04 605.13,40.03 C605.46,39.03 605.87,44.71 606.13,46.05 C606.40,47.39 606.47,48.89 606.74,48.06 C607.00,47.22 607.40,42.37 607.74,41.04 C608.07,39.70 608.41,39.03 608.74,40.03 C609.08,41.04 609.41,45.72 609.75,47.05 C610.08,48.39 610.35,48.22 610.75,48.06 C611.15,47.89 611.75,47.05 612.15,46.05 C612.55,45.05 612.76,43.44 613.16,42.04 C613.56,40.64 614.13,38.13 614.56,37.63 C615.00,37.13 615.40,37.63 615.77,39.03 C616.13,40.43 616.43,43.21 616.77,46.05 C617.10,48.89 617.44,52.40 617.77,56.08 C618.11,59.76 618.44,64.27 618.78,68.11 C619.11,71.96 619.38,76.47 619.78,79.14 C620.18,81.82 620.68,83.66 621.18,84.16 C621.69,84.66 622.29,83.15 622.79,82.15 C623.29,81.15 623.73,78.64 624.19,78.14 C624.66,77.64 625.10,78.47 625.60,79.14 C626.10,79.81 626.70,81.15 627.20,82.15 C627.71,83.15 628.11,84.99 628.61,85.16 C629.11,85.33 629.61,83.72 630.21,83.15 C630.82,82.59 631.55,82.25 632.22,81.75 C632.89,81.25 633.63,80.58 634.23,80.15 C634.83,79.71 635.33,78.81 635.83,79.14 C636.34,79.48 636.84,80.98 637.24,82.15 C637.64,83.32 637.84,85.83 638.24,86.16 C638.64,86.50 639.15,84.89 639.65,84.16 C640.15,83.42 640.65,82.15 641.25,81.75 C641.85,81.35 642.59,81.75 643.26,81.75 C643.93,81.75 644.70,81.52 645.27,81.75 C645.83,81.98 646.17,82.42 646.67,83.15 C647.17,83.89 647.77,86.00 648.28,86.16 C648.78,86.33 649.18,84.89 649.68,84.16 C650.18,83.42 650.68,82.25 651.29,81.75 C651.89,81.25 652.62,81.15 653.29,81.15 C653.96,81.15 654.73,81.85 655.30,81.75 C655.87,81.65 656.20,80.31 656.70,80.55 C657.21,80.78 657.71,82.82 658.31,83.15 C658.91,83.49 659.48,82.65 660.32,82.55 C661.15,82.45 662.16,82.55 663.33,82.55 C664.50,82.55 666.00,82.69 667.34,82.55 C668.68,82.42 670.02,81.75 671.35,81.75 C672.69,81.75 674.03,82.42 675.37,82.55 C676.71,82.69 677.88,82.55 679.38,82.55 C680.89,82.55 683.56,82.55 684.40,82.55" fill="none" stroke="#111" stroke-width="1.5" stroke-linejoin="round" stroke-linecap="round" />
<path d="M320.34,159.20 C321.25,159.17 323.92,159.01 325.80,159.01 C327.69,159.01 329.70,159.10 331.65,159.20 C333.60,159.30 335.88,159.62 337.50,159.59 C339.13,159.56 340.27,159.27 341.41,159.01 C342.54,158.75 343.36,158.06 344.33,158.03 C345.31,158.00 346.28,158.71 347.26,158.81 C348.23,158.91 349.37,158.81 350.18,158.62 C351.00,158.42 351.48,158.29 352.13,157.64 C352.78,156.99 353.43,155.59 354.08,154.72 C354.73,153.84 355.22,152.80 356.03,152.38 C356.85,151.96 358.08,152.22 358.96,152.18 C359.84,152.15 360.59,152.57 361.30,152.18 C362.02,151.79 362.67,150.72 363.25,149.84 C363.84,148.97 364.16,147.47 364.81,146.92 C365.46,146.37 366.34,146.43 367.15,146.53 C367.96,146.63 368.78,147.11 369.69,147.50 C370.60,147.89 371.48,148.64 372.61,148.87 C373.75,149.10 375.05,149.03 376.51,148.87 C377.98,148.71 380.25,147.89 381.39,147.89 C382.53,147.89 382.53,148.48 383.34,148.87 C384.15,149.26 385.45,149.58 386.27,150.23 C387.08,150.88 387.57,152.02 388.22,152.77 C388.87,153.51 389.35,154.29 390.17,154.72 C390.98,155.14 392.12,155.14 393.09,155.30 C394.07,155.46 395.21,155.46 396.02,155.69 C396.83,155.92 397.16,156.41 397.97,156.67 C398.78,156.93 399.92,157.35 400.89,157.25 C401.87,157.15 403.01,156.02 403.82,156.08 C404.63,156.15 404.96,157.15 405.77,157.64 C406.58,158.13 407.72,159.01 408.70,159.01 C409.67,159.01 410.65,157.93 411.62,157.64 C412.60,157.35 413.57,157.19 414.55,157.25 C415.52,157.32 416.50,157.90 417.47,158.03 C418.45,158.16 419.26,158.03 420.40,158.03 C421.54,158.03 422.84,158.10 424.30,158.03 C425.76,157.97 427.78,157.77 429.18,157.64 C430.57,157.51 432.10,157.32 432.69,157.25" fill="none" stroke="#111" stroke-width="1.5" stroke-linejoin="round" stroke-linecap="round" />
<path d="M445.34,158.81 C446.25,158.88 449.24,159.07 450.80,159.20 C452.36,159.33 453.08,159.59 454.70,159.59 C456.33,159.59 458.60,159.27 460.55,159.20 C462.50,159.14 464.46,159.20 466.41,159.20 C468.36,159.20 470.79,159.20 472.26,159.20 C473.72,159.20 474.47,159.53 475.18,159.20 C475.90,158.88 475.90,158.49 476.55,157.25 C477.20,156.02 478.17,153.68 479.08,151.79 C479.99,149.91 481.03,147.89 482.01,145.94 C482.98,143.99 483.80,142.14 484.93,140.09 C486.07,138.05 487.70,134.80 488.84,133.66 C489.97,132.52 490.79,133.40 491.76,133.27 C492.74,133.14 493.87,133.14 494.69,132.88 C495.50,132.62 495.82,131.97 496.64,131.71 C497.45,131.45 498.75,131.55 499.56,131.32 C500.38,131.09 500.70,130.41 501.51,130.35 C502.33,130.28 503.46,130.77 504.44,130.93 C505.41,131.09 506.39,130.93 507.37,131.32 C508.34,131.71 509.32,132.78 510.29,133.27 C511.27,133.76 512.34,133.86 513.22,134.25 C514.09,134.64 514.91,134.64 515.56,135.61 C516.21,136.59 516.60,138.37 517.12,140.09 C517.64,141.82 518.03,144.38 518.68,145.94 C519.33,147.50 520.24,148.32 521.02,149.45 C521.80,150.59 522.64,151.73 523.36,152.77 C524.07,153.81 524.66,154.68 525.31,155.69 C525.96,156.70 526.51,158.13 527.26,158.81 C528.01,159.49 528.95,159.59 529.80,159.79 C530.64,159.98 531.52,160.08 532.33,159.98 C533.14,159.88 533.79,159.53 534.67,159.20 C535.55,158.88 536.72,157.97 537.60,158.03 C538.47,158.10 539.13,159.23 539.94,159.59 C540.75,159.95 541.56,160.24 542.47,160.18 C543.38,160.11 544.42,159.53 545.40,159.20 C546.37,158.88 547.35,158.23 548.32,158.23 C549.30,158.23 550.28,158.97 551.25,159.20 C552.23,159.43 553.04,159.53 554.18,159.59 C555.31,159.66 557.43,159.59 558.08,159.59" fill="none" stroke="#111" stroke-width="1.5" stroke-linejoin="round" stroke-linecap="round" />
<path d="M571.29,159.59 C572.20,159.59 574.87,159.59 576.75,159.59 C578.64,159.59 580.98,159.69 582.60,159.59 C584.23,159.49 585.46,159.20 586.50,159.01 C587.54,158.81 588.03,158.39 588.85,158.42 C589.66,158.45 590.15,159.07 591.38,159.20 C592.62,159.33 594.63,159.27 596.26,159.20 C597.88,159.14 600.00,159.01 601.13,158.81 C602.27,158.62 602.43,158.62 603.08,158.03 C603.73,157.45 604.38,156.34 605.03,155.30 C605.68,154.26 606.33,153.35 606.98,151.79 C607.63,150.23 608.28,148.22 608.93,145.94 C609.59,143.67 610.24,140.74 610.89,138.14 C611.54,135.55 612.19,132.62 612.84,130.35 C613.49,128.07 614.23,126.02 614.79,124.50 C615.34,122.97 615.73,122.16 616.15,121.18 C616.57,120.21 616.90,119.01 617.32,118.65 C617.74,118.29 618.23,118.55 618.69,119.04 C619.14,119.53 619.56,120.66 620.05,121.57 C620.54,122.48 621.03,124.01 621.61,124.50 C622.20,124.98 622.91,124.11 623.56,124.50 C624.21,124.89 624.86,126.25 625.51,126.84 C626.16,127.42 626.81,127.68 627.46,128.01 C628.11,128.33 628.76,128.23 629.41,128.79 C630.06,129.34 630.71,130.25 631.37,131.32 C632.02,132.39 632.67,133.92 633.32,135.22 C633.97,136.52 634.68,137.66 635.27,139.12 C635.85,140.58 636.34,142.37 636.83,143.99 C637.31,145.62 637.74,147.24 638.19,148.87 C638.65,150.49 639.07,152.35 639.56,153.74 C640.04,155.14 640.53,156.54 641.12,157.25 C641.70,157.97 642.42,157.71 643.07,158.03 C643.72,158.36 644.37,158.78 645.02,159.20 C645.67,159.62 646.32,160.18 646.97,160.57 C647.62,160.96 648.11,161.38 648.92,161.54 C649.73,161.70 650.93,161.70 651.84,161.54 C652.76,161.38 653.57,160.79 654.38,160.57 C655.19,160.34 656.01,160.01 656.72,160.18 C657.44,160.34 658.02,161.38 658.67,161.54 C659.32,161.70 659.81,161.31 660.62,161.15 C661.43,160.99 662.57,160.73 663.55,160.57 C664.52,160.40 665.50,160.08 666.47,160.18 C667.45,160.27 668.26,161.05 669.40,161.15 C670.54,161.25 671.84,160.86 673.30,160.76 C674.76,160.66 676.55,160.53 678.18,160.57 C679.80,160.60 682.24,160.89 683.05,160.96" fill="none" stroke="#111" stroke-width="1.5" stroke-linejoin="round" stroke-linecap="round" />
<line x1="325.3" y1="132" x2="325.3" y2="141.2" stroke="#111" stroke-width="1.3"/>
<path d="M323.40000000000003,133.2 L325.3,129.2 L327.2,133.2 Z" fill="#111"/>
<text x="331.3" y="139.8" font-size="12" font-weight="normal" fill="#111" text-anchor="start" font-family="Liberation Sans" stroke="#111" stroke-width="0.3">R</text>
<line x1="450.4" y1="132" x2="450.4" y2="141.2" stroke="#111" stroke-width="1.3"/>
<path d="M448.5,133.2 L450.4,129.2 L452.29999999999995,133.2 Z" fill="#111"/>
<text x="456.4" y="139.8" font-size="12" font-weight="normal" fill="#111" text-anchor="start" font-family="Liberation Sans" stroke="#111" stroke-width="0.3">R</text>
<line x1="575.4" y1="132" x2="575.4" y2="141.2" stroke="#111" stroke-width="1.3"/>
<path d="M573.5,133.2 L575.4,129.2 L577.3,133.2 Z" fill="#111"/>
<text x="581.4" y="139.8" font-size="12" font-weight="normal" fill="#111" text-anchor="start" font-family="Liberation Sans" stroke="#111" stroke-width="0.3">R</text>
<path d="M319.95,316.98 C320.93,317.01 323.85,317.18 325.80,317.18 C327.75,317.18 329.87,317.08 331.65,316.98 C333.44,316.88 335.23,316.79 336.53,316.59 C337.83,316.40 338.32,315.94 339.46,315.81 C340.59,315.68 342.22,315.68 343.36,315.81 C344.49,315.94 345.14,316.46 346.28,316.59 C347.42,316.72 349.21,316.75 350.18,316.59 C351.16,316.43 351.58,316.20 352.13,315.62 C352.69,315.03 353.01,313.73 353.50,313.08 C353.99,312.43 354.54,312.43 355.06,311.72 C355.58,311.00 356.13,309.18 356.62,308.79 C357.11,308.40 357.59,308.79 357.98,309.38 C358.37,309.96 358.54,311.68 358.96,312.30 C359.38,312.92 360.03,313.18 360.52,313.08 C361.01,312.98 361.43,311.62 361.89,311.72 C362.34,311.81 362.83,314.15 363.25,313.67 C363.67,313.18 364.00,309.77 364.42,308.79 C364.84,307.82 365.33,307.49 365.79,307.82 C366.24,308.14 366.66,310.00 367.15,310.74 C367.64,311.49 368.19,311.81 368.71,312.30 C369.23,312.79 369.69,313.11 370.27,313.67 C370.86,314.22 371.51,315.39 372.22,315.62 C372.94,315.84 373.69,315.26 374.56,315.03 C375.44,314.80 376.51,314.15 377.49,314.25 C378.46,314.35 379.44,315.55 380.41,315.62 C381.39,315.68 382.53,314.64 383.34,314.64 C384.15,314.64 384.64,315.29 385.29,315.62 C385.94,315.94 386.59,316.75 387.24,316.59 C387.89,316.43 388.54,314.80 389.19,314.64 C389.84,314.48 390.33,315.52 391.14,315.62 C391.95,315.71 393.09,315.23 394.07,315.23 C395.04,315.23 396.02,315.45 396.99,315.62 C397.97,315.78 398.94,316.30 399.92,316.20 C400.89,316.10 401.87,315.03 402.84,315.03 C403.82,315.03 404.63,315.68 405.77,316.20 C406.91,316.72 408.53,317.92 409.67,318.15 C410.81,318.38 411.62,317.83 412.60,317.57 C413.57,317.31 414.55,316.66 415.52,316.59 C416.50,316.53 417.47,317.01 418.45,317.18 C419.42,317.34 420.40,317.44 421.37,317.57 C422.35,317.70 423.32,318.05 424.30,317.96 C425.28,317.86 426.25,317.05 427.23,316.98 C428.20,316.92 429.18,317.63 430.15,317.57 C431.13,317.50 432.59,316.75 433.08,316.59" fill="none" stroke="#111" stroke-width="1.5" stroke-linejoin="round" stroke-linecap="round" />
<path d="M444.95,314.25 C445.44,314.25 446.90,314.02 447.88,314.25 C448.85,314.48 449.83,315.13 450.80,315.62 C451.78,316.10 452.59,316.85 453.73,317.18 C454.87,317.50 456.17,317.50 457.63,317.57 C459.09,317.63 460.72,317.57 462.50,317.57 C464.29,317.57 466.73,317.57 468.36,317.57 C469.98,317.57 471.12,317.57 472.26,317.57 C473.39,317.57 474.47,317.89 475.18,317.57 C475.90,317.24 476.06,316.43 476.55,315.62 C477.04,314.80 477.59,313.83 478.11,312.69 C478.63,311.55 479.18,309.93 479.67,308.79 C480.16,307.66 480.48,306.68 481.03,305.87 C481.59,305.06 482.33,304.73 482.98,303.92 C483.63,303.11 484.28,301.74 484.93,300.99 C485.59,300.25 486.33,300.08 486.89,299.43 C487.44,298.78 487.83,297.87 488.25,297.09 C488.67,296.31 489.00,295.01 489.42,294.75 C489.84,294.49 490.23,295.53 490.79,295.53 C491.34,295.53 492.09,294.56 492.74,294.75 C493.39,294.95 493.94,296.25 494.69,296.70 C495.43,297.16 496.48,297.09 497.22,297.48 C497.97,297.87 498.62,298.46 499.17,299.04 C499.73,299.63 500.15,301.16 500.54,300.99 C500.93,300.83 501.09,298.98 501.51,298.07 C501.94,297.16 502.59,295.53 503.07,295.53 C503.56,295.53 503.98,297.48 504.44,298.07 C504.89,298.65 505.32,299.14 505.80,299.04 C506.29,298.95 506.78,297.32 507.37,297.48 C507.95,297.65 508.67,299.11 509.32,300.02 C509.97,300.93 510.62,302.07 511.27,302.94 C511.92,303.82 512.57,304.37 513.22,305.28 C513.87,306.19 514.58,307.23 515.17,308.40 C515.75,309.57 516.24,311.52 516.73,312.30 C517.21,313.08 517.54,313.08 518.09,313.08 C518.65,313.08 519.39,312.20 520.04,312.30 C520.69,312.40 521.34,313.21 521.99,313.67 C522.64,314.12 523.29,314.54 523.94,315.03 C524.59,315.52 525.24,316.17 525.89,316.59 C526.54,317.01 527.19,317.08 527.84,317.57 C528.50,318.05 529.15,318.93 529.80,319.52 C530.45,320.10 531.10,320.98 531.75,321.08 C532.40,321.17 533.05,320.46 533.70,320.10 C534.35,319.74 535.00,319.35 535.65,318.93 C536.30,318.51 536.95,317.63 537.60,317.57 C538.25,317.50 538.90,318.31 539.55,318.54 C540.20,318.77 540.69,318.93 541.50,318.93 C542.31,318.93 543.45,318.70 544.42,318.54 C545.40,318.38 546.54,318.12 547.35,317.96 C548.16,317.79 548.65,317.47 549.30,317.57 C549.95,317.66 550.44,318.44 551.25,318.54 C552.06,318.64 553.04,318.15 554.18,318.15 C555.31,318.15 557.43,318.48 558.08,318.54" fill="none" stroke="#111" stroke-width="1.5" stroke-linejoin="round" stroke-linecap="round" />
<path d="M570.51,315.23 C571.23,315.29 573.44,315.65 574.80,315.62 C576.17,315.58 577.40,315.10 578.70,315.03 C580.00,314.97 581.30,315.13 582.60,315.23 C583.90,315.32 585.20,315.55 586.50,315.62 C587.80,315.68 589.11,315.52 590.41,315.62 C591.71,315.71 593.01,316.04 594.31,316.20 C595.61,316.36 596.91,316.53 598.21,316.59 C599.51,316.66 601.20,316.85 602.11,316.59 C603.02,316.33 603.18,315.62 603.67,315.03 C604.16,314.45 604.64,313.21 605.03,313.08 C605.42,312.95 605.68,314.97 606.01,314.25 C606.33,313.54 606.66,311.16 606.98,308.79 C607.31,306.42 607.63,300.99 607.96,300.02 C608.28,299.04 608.61,301.64 608.93,302.94 C609.26,304.24 609.49,308.31 609.91,307.82 C610.33,307.33 610.98,302.13 611.47,300.02 C611.96,297.91 612.28,296.61 612.84,295.14 C613.39,293.68 614.23,292.71 614.79,291.25 C615.34,289.78 615.73,288.00 616.15,286.37 C616.57,284.75 616.90,283.35 617.32,281.50 C617.74,279.64 618.30,276.23 618.69,275.26 C619.08,274.28 619.34,274.93 619.66,275.65 C619.99,276.36 620.25,278.83 620.64,279.55 C621.03,280.26 621.52,279.68 622.00,279.94 C622.49,280.20 623.14,281.11 623.56,281.11 C623.99,281.11 624.21,279.55 624.54,279.94 C624.86,280.33 625.09,281.89 625.51,283.45 C625.94,285.01 626.49,287.67 627.07,289.30 C627.66,290.92 628.37,291.90 629.02,293.20 C629.67,294.49 630.42,296.12 630.98,297.09 C631.53,298.07 631.95,298.07 632.34,299.04 C632.73,300.02 632.99,301.64 633.32,302.94 C633.64,304.24 633.90,305.54 634.29,306.84 C634.68,308.14 635.17,309.61 635.66,310.74 C636.14,311.88 636.70,312.69 637.22,313.67 C637.74,314.64 638.29,315.62 638.78,316.59 C639.26,317.57 639.69,318.61 640.14,319.52 C640.60,320.43 641.02,321.89 641.51,322.05 C642.00,322.21 642.55,320.82 643.07,320.49 C643.59,320.17 644.14,320.04 644.63,320.10 C645.12,320.17 645.54,320.82 645.99,320.88 C646.45,320.95 646.87,320.46 647.36,320.49 C647.85,320.52 648.40,321.24 648.92,321.08 C649.44,320.91 649.99,319.94 650.48,319.52 C650.97,319.09 651.39,318.87 651.84,318.54 C652.30,318.22 652.72,318.15 653.21,317.57 C653.70,316.98 654.25,315.42 654.77,315.03 C655.29,314.64 655.68,315.03 656.33,315.23 C656.98,315.42 657.96,315.88 658.67,316.20 C659.39,316.53 659.97,317.11 660.62,317.18 C661.27,317.24 661.92,316.79 662.57,316.59 C663.22,316.40 663.71,316.01 664.52,316.01 C665.34,316.01 666.47,316.33 667.45,316.59 C668.42,316.85 669.40,317.50 670.37,317.57 C671.35,317.63 672.32,316.98 673.30,316.98 C674.28,316.98 675.25,317.47 676.23,317.57 C677.20,317.66 677.95,317.57 679.15,317.57 C680.35,317.57 682.73,317.57 683.44,317.57" fill="none" stroke="#111" stroke-width="1.5" stroke-linejoin="round" stroke-linecap="round" />
<path d="M320.80,223.72 L321.11,217.22 L321.42,223.39 L321.73,219.56 L322.04,221.92 L322.35,219.39 L322.66,221.60 L322.98,219.50 L323.29,222.12 L323.60,212.56 L323.91,225.36 L324.22,218.61 L324.53,221.94 L324.84,219.42 L325.15,222.79 L325.46,219.58 L325.77,226.62 L326.08,219.27 L326.39,222.25 L326.70,218.78 L327.02,222.67 L327.33,218.59 L327.64,223.18 L327.95,218.94 L328.26,222.31 L328.57,217.54 L328.88,226.63 L329.19,219.54 L329.50,222.46 L329.81,219.09 L330.12,222.32 L330.43,218.19 L330.74,221.95 L331.06,217.64 L331.37,222.07 L331.68,219.52 L331.99,222.97 L332.30,218.70 L332.61,224.40 L332.92,219.29 L333.23,221.81 L333.54,217.64 L333.85,222.85 L334.16,219.28 L334.47,224.48 L334.78,219.51 L335.10,221.77 L335.41,216.61 L335.72,222.09 L336.03,219.36 L336.34,222.20 L336.65,217.75 L336.96,222.75 L337.27,217.92 L337.58,221.97 L337.89,219.51 L338.20,224.42 L338.51,217.95 L338.82,222.10 L339.14,218.45 L339.45,223.74 L339.76,219.46 L340.07,223.37 L340.38,218.14 L340.69,222.68 L341.00,217.91 L341.31,222.02 L341.62,217.85 L341.93,223.20 L342.24,219.37 L342.55,224.33 L342.86,217.38 L343.18,226.09 L343.49,217.74 L343.80,221.78 L344.11,218.65 L344.42,222.71 L344.73,219.29 L345.04,222.76 L345.35,219.49 L345.66,222.88 L345.97,218.94 L346.28,222.89 L346.59,215.48 L346.90,222.49 L347.22,218.51 L347.53,226.12 L347.84,216.41 L348.15,223.67 L348.46,219.11 L348.77,224.13 L349.08,219.19 L349.39,222.23 L349.70,218.69 L350.01,221.86 L350.32,218.88 L350.63,223.05 L350.95,219.61 L351.26,222.69 L351.57,219.48 L351.88,221.90 L352.19,218.14 L352.50,223.59 L352.81,216.35 L353.12,222.32 L353.43,217.86 L353.74,221.70 L354.05,218.92 L354.36,222.23 L354.67,216.90 L354.99,222.61 L355.30,218.50 L355.61,224.84 L355.92,217.12 L356.23,223.51 L356.54,219.37 L356.85,222.32 L357.16,216.60 L357.47,221.91 L357.78,218.03 L358.09,222.72 L358.40,218.97 L358.71,223.22 L359.03,218.78 L359.34,221.71 L359.65,219.38 L359.96,224.16 L360.27,217.34 L360.58,223.31 L360.89,219.48 L361.20,221.74 L361.51,216.89 L361.82,224.75 L362.13,216.58 L362.44,221.63 L362.75,217.73 L363.07,221.82 L363.38,219.55 L363.69,223.07 L364.00,218.58 L364.31,225.33 L364.62,217.35 L364.93,222.09 L365.24,217.38 L365.55,222.51 L365.86,217.36 L366.17,222.03 L366.48,218.45 L366.79,223.38 L367.11,219.42 L367.42,223.12 L367.73,219.01 L368.04,222.89 L368.35,213.13 L368.66,224.49 L368.97,215.30 L369.28,222.51 L369.59,218.07 L369.90,223.64 L370.21,218.33 L370.52,223.91 L370.83,213.31 L371.15,224.59 L371.46,215.65 L371.77,224.34 L372.08,218.10 L372.39,223.69 L372.70,216.22 L373.01,224.79 L373.32,217.44 L373.63,223.17 L373.94,218.28 L374.25,224.77 L374.56,212.23 L374.87,223.22 L375.19,216.88 L375.50,223.52 L375.81,214.15 L376.12,228.06 L376.43,217.40 L376.74,224.55 L377.05,215.93 L377.36,222.53 L377.67,218.01 L377.98,223.51 L378.29,218.22 L378.60,224.21 L378.91,216.98 L379.23,226.02 L379.54,210.73 L379.85,227.05 L380.16,218.68 L380.47,222.76 L380.78,216.40 L381.09,223.00 L381.40,215.50 L381.71,224.69 L382.02,217.46 L382.33,225.89 L382.64,217.07 L382.95,223.15 L383.27,212.22 L383.58,224.26 L383.89,216.24 L384.20,227.63 L384.51,215.24 L384.82,224.26 L385.13,217.86 L385.44,227.30 L385.75,216.47 L386.06,223.09 L386.37,218.12 L386.68,221.65 L386.99,219.14 L387.31,222.49 L387.62,218.67 L387.93,223.42 L388.24,217.42 L388.55,222.14 L388.86,217.91 L389.17,223.79 L389.48,217.61 L389.79,221.98 L390.10,218.85 L390.41,223.23 L390.72,218.09 L391.03,221.94 L391.35,216.60 L391.66,221.91 L391.97,219.48 L392.28,222.16 L392.59,218.64 L392.90,221.91 L393.21,217.44 L393.52,222.36 L393.83,216.71 L394.14,224.83 L394.45,219.42 L394.76,222.59 L395.07,218.71 L395.39,223.61 L395.70,217.76 L396.01,221.90 L396.32,215.17 L396.63,222.87 L396.94,218.98 L397.25,221.66 L397.56,219.60 L397.87,222.15 L398.18,218.04 L398.49,223.97 L398.80,219.49 L399.11,222.92 L399.43,219.58 L399.74,222.53 L400.05,217.88 L400.36,222.45 L400.67,218.15 L400.98,221.93 L401.29,218.66 L401.60,221.68 L401.91,219.50 L402.22,224.31 L402.53,217.77 L402.84,223.79 L403.15,217.97 L403.47,223.11 L403.78,217.77 L404.09,223.20 L404.40,217.91 L404.71,223.19 L405.02,217.29 L405.33,222.35 L405.64,218.56 L405.95,222.50 L406.26,219.35 L406.57,222.08 L406.88,219.51 L407.20,222.96 L407.51,216.82 L407.82,223.97 L408.13,218.77 L408.44,222.82 L408.75,218.61 L409.06,221.86 L409.37,218.67 L409.68,223.35 L409.99,217.71 L410.30,223.53 L410.61,216.90 L410.92,222.86 L411.24,218.53 L411.55,222.74 L411.86,215.64 L412.17,224.75 L412.48,215.62 L412.79,222.99 L413.10,218.25 L413.41,222.05 L413.72,218.20 L414.03,223.85 L414.34,219.07 L414.65,222.96 L414.96,218.49 L415.28,223.77 L415.59,217.07 L415.90,221.96 L416.21,216.33 L416.52,223.31 L416.83,218.21 L417.14,222.02 L417.45,218.82 L417.76,221.88 L418.07,218.92 L418.38,224.39 L418.69,218.83 L419.00,223.98 L419.32,217.41 L419.63,223.67 L419.94,219.37 L420.25,222.70 L420.56,217.46 L420.87,222.15 L421.18,217.73 L421.49,222.37 L421.80,219.41 L422.11,222.58 L422.42,217.69 L422.73,225.02 L423.04,217.07 L423.36,222.06 L423.67,219.25 L423.98,223.55 L424.29,218.76 L424.60,226.36 L424.91,215.85 L425.22,223.27 L425.53,219.02 L425.84,224.51 L426.15,218.95 L426.46,223.40 L426.77,217.06 L427.08,224.51 L427.40,218.90 L427.71,224.16 L428.02,218.40 L428.33,223.97 L428.64,218.55 L428.95,222.88 L429.26,218.75 L429.57,223.38 L429.88,216.80 L430.19,221.79 L430.50,217.95 L430.81,225.11 L431.12,217.56 L431.44,224.77 L431.75,217.49 L432.06,222.33 L432.37,219.56 L432.68,222.74 L432.99,218.42 L433.30,223.58" fill="none" stroke="#111" stroke-width="0.85" stroke-linejoin="round" stroke-linecap="round" />
<line x1="370.8" y1="209.6" x2="370.8" y2="233.6" stroke="#111" stroke-width="0.9"/><line x1="372.8" y1="205.6" x2="372.8" y2="236.6" stroke="#111" stroke-width="0.9"/><line x1="375.3" y1="206.6" x2="375.3" y2="232.6" stroke="#111" stroke-width="0.9"/><line x1="378.3" y1="205.6" x2="378.3" y2="232.6" stroke="#111" stroke-width="0.9"/><line x1="381.3" y1="203.6" x2="381.3" y2="233.6" stroke="#111" stroke-width="0.9"/><line x1="384.8" y1="208.6" x2="384.8" y2="232.6" stroke="#111" stroke-width="0.9"/><line x1="330.3" y1="216.6" x2="330.3" y2="226.6" stroke="#111" stroke-width="0.9"/><line x1="350.3" y1="217.6" x2="350.3" y2="224.6" stroke="#111" stroke-width="0.9"/><line x1="412.3" y1="214.6" x2="412.3" y2="225.6" stroke="#111" stroke-width="0.9"/><line x1="419.3" y1="216.6" x2="419.3" y2="227.6" stroke="#111" stroke-width="0.9"/><line x1="424.3" y1="216.6" x2="424.3" y2="227.6" stroke="#111" stroke-width="0.9"/><line x1="428.3" y1="216.6" x2="428.3" y2="226.6" stroke="#111" stroke-width="0.9"/>
<path d="M445.90,228.09 L446.21,217.38 L446.52,224.26 L446.83,215.49 L447.14,224.87 L447.45,216.92 L447.76,224.44 L448.08,217.99 L448.39,225.17 L448.70,218.07 L449.01,222.72 L449.32,218.94 L449.63,226.05 L449.94,215.39 L450.25,222.18 L450.56,218.51 L450.87,231.40 L451.18,218.47 L451.49,225.70 L451.80,216.25 L452.12,222.49 L452.43,214.58 L452.74,223.60 L453.05,218.71 L453.36,225.17 L453.67,218.32 L453.98,226.94 L454.29,219.04 L454.60,224.42 L454.91,217.40 L455.22,222.61 L455.53,216.17 L455.84,222.61 L456.16,217.61 L456.47,223.99 L456.78,217.91 L457.09,225.21 L457.40,218.99 L457.71,222.79 L458.02,217.46 L458.33,222.85 L458.64,218.36 L458.95,223.52 L459.26,218.16 L459.57,223.30 L459.88,217.40 L460.20,224.56 L460.51,217.15 L460.82,223.42 L461.13,213.97 L461.44,224.50 L461.75,218.59 L462.06,236.10 L462.37,211.67 L462.68,222.71 L462.99,217.70 L463.30,222.70 L463.61,218.57 L463.92,224.41 L464.24,218.54 L464.55,227.62 L464.86,217.56 L465.17,222.48 L465.48,213.58 L465.79,222.93 L466.10,216.30 L466.41,222.61 L466.72,217.99 L467.03,224.48 L467.34,216.64 L467.65,226.13 L467.96,213.99 L468.28,222.56 L468.59,218.83 L468.90,222.75 L469.21,218.84 L469.52,224.14 L469.83,216.79 L470.14,223.98 L470.45,219.01 L470.76,225.13 L471.07,217.14 L471.38,222.24 L471.69,213.70 L472.00,223.17 L472.32,218.40 L472.63,223.44 L472.94,218.12 L473.25,224.96 L473.56,218.70 L473.87,223.43 L474.18,213.67 L474.49,224.92 L474.80,217.84 L475.11,224.84 L475.42,217.54 L475.73,222.92 L476.05,216.77 L476.36,223.75 L476.67,217.72 L476.98,225.98 L477.29,218.61 L477.60,228.28 L477.91,215.86 L478.22,223.87 L478.53,219.46 L478.84,221.99 L479.15,217.94 L479.46,221.67 L479.77,218.44 L480.09,224.45 L480.40,218.90 L480.71,222.14 L481.02,219.08 L481.33,229.21 L481.64,218.90 L481.95,221.97 L482.26,217.57 L482.57,222.05 L482.88,218.26 L483.19,224.63 L483.50,218.69 L483.81,222.00 L484.13,218.37 L484.44,223.97 L484.75,218.42 L485.06,221.96 L485.37,218.86 L485.68,222.72 L485.99,218.14 L486.30,225.72 L486.61,216.41 L486.92,221.99 L487.23,218.37 L487.54,223.58 L487.85,218.78 L488.17,224.39 L488.48,218.67 L488.79,221.92 L489.10,218.27 L489.41,222.14 L489.72,217.88 L490.03,222.50 L490.34,217.21 L490.65,222.44 L490.96,218.83 L491.27,223.88 L491.58,218.04 L491.89,225.98 L492.21,218.81 L492.52,223.22 L492.83,217.11 L493.14,222.90 L493.45,218.36 L493.76,221.81 L494.07,217.81 L494.38,227.14 L494.69,205.10 L495.00,223.63 L495.31,212.98 L495.62,228.73 L495.93,214.03 L496.25,223.13 L496.56,213.08 L496.87,226.42 L497.18,214.17 L497.49,226.94 L497.80,216.49 L498.11,223.21 L498.42,218.13 L498.73,226.50 L499.04,212.78 L499.35,224.50 L499.66,212.14 L499.97,223.00 L500.29,215.85 L500.60,227.77 L500.91,214.96 L501.22,224.48 L501.53,216.52 L501.84,223.10 L502.15,217.72 L502.46,226.18 L502.77,214.65 L503.08,225.24 L503.39,215.83 L503.70,231.34 L504.01,216.18 L504.33,224.82 L504.64,212.96 L504.95,228.79 L505.26,213.60 L505.57,226.66 L505.88,215.23 L506.19,225.25 L506.50,215.84 L506.81,223.29 L507.12,215.14 L507.43,224.53 L507.74,214.80 L508.05,226.75 L508.37,216.24 L508.68,225.10 L508.99,210.27 L509.30,228.68 L509.61,211.35 L509.92,223.13 L510.23,215.74 L510.54,227.23 L510.85,212.80 L511.16,225.59 L511.47,215.34 L511.78,229.37 L512.09,216.85 L512.41,224.33 L512.72,218.67 L513.03,224.29 L513.34,218.43 L513.65,223.48 L513.96,217.78 L514.27,223.61 L514.58,215.70 L514.89,222.50 L515.20,218.88 L515.51,223.21 L515.82,219.28 L516.13,223.80 L516.45,217.61 L516.76,221.91 L517.07,216.31 L517.38,222.27 L517.69,218.81 L518.00,222.43 L518.31,219.03 L518.62,222.78 L518.93,218.94 L519.24,221.78 L519.55,217.20 L519.86,221.70 L520.17,218.95 L520.49,224.34 L520.80,218.29 L521.11,222.52 L521.42,218.27 L521.73,226.32 L522.04,215.91 L522.35,222.74 L522.66,218.54 L522.97,223.46 L523.28,218.44 L523.59,222.66 L523.90,217.97 L524.21,222.43 L524.53,219.33 L524.84,224.04 L525.15,218.57 L525.46,224.22 L525.77,216.67 L526.08,222.09 L526.39,218.70 L526.70,224.09 L527.01,219.12 L527.32,221.74 L527.63,217.59 L527.94,222.24 L528.25,219.56 L528.57,222.55 L528.88,217.68 L529.19,222.92 L529.50,218.02 L529.81,222.56 L530.12,218.82 L530.43,223.38 L530.74,217.91 L531.05,222.05 L531.36,217.56 L531.67,224.14 L531.98,217.61 L532.30,222.67 L532.61,218.56 L532.92,224.11 L533.23,217.72 L533.54,223.03 L533.85,219.32 L534.16,221.99 L534.47,216.90 L534.78,223.78 L535.09,219.15 L535.40,223.81 L535.71,218.37 L536.02,222.21 L536.34,217.69 L536.65,223.09 L536.96,213.31 L537.27,223.54 L537.58,218.02 L537.89,226.22 L538.20,218.26 L538.51,221.94 L538.82,218.42 L539.13,222.27 L539.44,215.90 L539.75,224.01 L540.06,218.17 L540.38,223.57 L540.69,217.70 L541.00,221.98 L541.31,218.05 L541.62,225.50 L541.93,218.94 L542.24,222.69 L542.55,216.73 L542.86,222.74 L543.17,217.96 L543.48,222.75 L543.79,219.40 L544.10,222.02 L544.42,218.58 L544.73,222.05 L545.04,217.22 L545.35,222.25 L545.66,218.22 L545.97,221.72 L546.28,219.30 L546.59,222.22 L546.90,218.17 L547.21,222.66 L547.52,218.01 L547.83,223.89 L548.14,219.31 L548.46,222.95 L548.77,218.52 L549.08,223.77 L549.39,218.29 L549.70,222.49 L550.01,219.07 L550.32,222.67 L550.63,219.04 L550.94,223.89 L551.25,218.11 L551.56,221.78 L551.87,218.96 L552.18,222.88 L552.50,218.38 L552.81,223.16 L553.12,218.33 L553.43,221.98 L553.74,217.47 L554.05,224.07 L554.36,218.70 L554.67,223.32 L554.98,218.36 L555.29,224.62 L555.60,219.19 L555.91,223.11 L556.22,218.35 L556.54,222.59 L556.85,218.38 L557.16,224.13 L557.47,216.28 L557.78,223.83 L558.09,218.24 L558.40,222.58" fill="none" stroke="#111" stroke-width="0.85" stroke-linejoin="round" stroke-linecap="round" />
<line x1="446.9" y1="207.6" x2="446.9" y2="234.6" stroke="#111" stroke-width="0.9"/><line x1="456.4" y1="204.6" x2="456.4" y2="235.6" stroke="#111" stroke-width="0.9"/><line x1="472.4" y1="205.6" x2="472.4" y2="232.6" stroke="#111" stroke-width="0.9"/><line x1="477.4" y1="207.6" x2="477.4" y2="233.6" stroke="#111" stroke-width="0.9"/><line x1="494.9" y1="207.6" x2="494.9" y2="230.6" stroke="#111" stroke-width="0.9"/><line x1="496.4" y1="206.6" x2="496.4" y2="232.6" stroke="#111" stroke-width="0.9"/><line x1="498.4" y1="209.6" x2="498.4" y2="234.6" stroke="#111" stroke-width="0.9"/><line x1="500.4" y1="207.6" x2="500.4" y2="236.6" stroke="#111" stroke-width="0.9"/><line x1="502.4" y1="210.6" x2="502.4" y2="233.6" stroke="#111" stroke-width="0.9"/><line x1="504.4" y1="205.6" x2="504.4" y2="237.6" stroke="#111" stroke-width="0.9"/><line x1="505.9" y1="208.6" x2="505.9" y2="231.6" stroke="#111" stroke-width="0.9"/><line x1="507.4" y1="202.6" x2="507.4" y2="236.6" stroke="#111" stroke-width="0.9"/><line x1="508.9" y1="208.6" x2="508.9" y2="234.6" stroke="#111" stroke-width="0.9"/><line x1="510.4" y1="206.6" x2="510.4" y2="232.6" stroke="#111" stroke-width="0.9"/>
<path d="M570.90,223.52 L571.21,212.83 L571.52,230.00 L571.83,216.98 L572.14,224.48 L572.45,205.10 L572.76,229.05 L573.08,217.19 L573.39,226.57 L573.70,214.31 L574.01,229.63 L574.32,215.31 L574.63,231.37 L574.94,216.45 L575.25,227.93 L575.56,213.49 L575.87,224.55 L576.18,213.76 L576.49,224.98 L576.80,216.77 L577.12,228.55 L577.43,215.78 L577.74,226.06 L578.05,215.51 L578.36,228.36 L578.67,214.48 L578.98,229.37 L579.29,217.73 L579.60,232.00 L579.91,216.07 L580.22,225.04 L580.53,210.39 L580.84,230.71 L581.16,214.88 L581.47,224.47 L581.78,213.98 L582.09,228.84 L582.40,205.10 L582.71,227.34 L583.02,210.51 L583.33,234.83 L583.64,215.91 L583.95,227.95 L584.26,205.62 L584.57,227.26 L584.88,208.32 L585.20,228.05 L585.51,216.83 L585.82,228.56 L586.13,215.95 L586.44,229.21 L586.75,215.27 L587.06,228.17 L587.37,213.83 L587.68,223.86 L587.99,217.67 L588.30,228.61 L588.61,215.90 L588.92,227.07 L589.24,207.59 L589.55,227.96 L589.86,208.43 L590.17,226.20 L590.48,216.05 L590.79,226.97 L591.10,213.94 L591.41,223.26 L591.72,217.11 L592.03,224.22 L592.34,215.31 L592.65,224.84 L592.96,213.93 L593.28,224.77 L593.59,214.68 L593.90,224.69 L594.21,216.06 L594.52,226.57 L594.83,215.04 L595.14,225.81 L595.45,217.57 L595.76,224.50 L596.07,214.98 L596.38,224.46 L596.69,214.45 L597.00,224.03 L597.32,214.87 L597.63,226.89 L597.94,216.00 L598.25,233.18 L598.56,217.79 L598.87,232.54 L599.18,213.96 L599.49,223.34 L599.80,210.09 L600.11,224.05 L600.42,206.20 L600.73,232.10 L601.05,210.63 L601.36,231.06 L601.67,213.96 L601.98,230.04 L602.29,217.51 L602.60,225.79 L602.91,213.70 L603.22,226.04 L603.53,215.59 L603.84,230.38 L604.15,217.03 L604.46,230.68 L604.77,216.41 L605.09,229.83 L605.40,206.21 L605.71,223.99 L606.02,217.06 L606.33,227.46 L606.64,217.33 L606.95,224.53 L607.26,218.06 L607.57,226.12 L607.88,217.49 L608.19,223.25 L608.50,219.50 L608.81,223.12 L609.13,217.61 L609.44,222.12 L609.75,218.71 L610.06,222.22 L610.37,219.02 L610.68,224.17 L610.99,217.60 L611.30,223.05 L611.61,218.18 L611.92,222.23 L612.23,217.72 L612.54,221.75 L612.85,213.62 L613.17,224.99 L613.48,217.86 L613.79,224.23 L614.10,217.61 L614.41,224.04 L614.72,217.22 L615.03,222.38 L615.34,216.94 L615.65,225.90 L615.96,218.07 L616.27,222.44 L616.58,219.30 L616.89,221.85 L617.21,219.17 L617.52,223.18 L617.83,217.28 L618.14,230.47 L618.45,217.98 L618.76,221.87 L619.07,218.69 L619.38,223.16 L619.69,218.92 L620.00,221.74 L620.31,218.39 L620.62,221.72 L620.93,217.72 L621.25,222.78 L621.56,218.01 L621.87,223.51 L622.18,219.21 L622.49,222.78 L622.80,216.70 L623.11,224.25 L623.42,219.26 L623.73,224.14 L624.04,217.83 L624.35,224.37 L624.66,218.52 L624.97,222.43 L625.29,217.25 L625.60,223.29 L625.91,215.36 L626.22,224.70 L626.53,217.69 L626.84,221.76 L627.15,219.14 L627.46,222.48 L627.77,218.02 L628.08,225.11 L628.39,215.17 L628.70,225.03 L629.01,218.84 L629.33,224.54 L629.64,219.18 L629.95,222.15 L630.26,214.97 L630.57,221.95 L630.88,216.67 L631.19,222.49 L631.50,218.46 L631.81,222.76 L632.12,216.92 L632.43,221.79 L632.74,215.92 L633.05,221.78 L633.37,218.76 L633.68,222.12 L633.99,217.89 L634.30,223.30 L634.61,219.45 L634.92,222.27 L635.23,217.21 L635.54,222.55 L635.85,219.27 L636.16,224.54 L636.47,217.08 L636.78,223.31 L637.09,218.89 L637.41,222.44 L637.72,216.93 L638.03,221.97 L638.34,216.52 L638.65,222.54 L638.96,219.32 L639.27,222.22 L639.58,216.86 L639.89,223.23 L640.20,217.51 L640.51,222.20 L640.82,218.76 L641.13,223.09 L641.45,217.01 L641.76,222.88 L642.07,217.93 L642.38,224.27 L642.69,218.33 L643.00,221.79 L643.31,217.83 L643.62,222.05 L643.93,219.14 L644.24,221.88 L644.55,217.85 L644.86,224.67 L645.17,218.72 L645.49,222.77 L645.80,218.59 L646.11,222.21 L646.42,216.67 L646.73,224.25 L647.04,218.04 L647.35,222.53 L647.66,218.97 L647.97,223.98 L648.28,219.12 L648.59,221.77 L648.90,219.08 L649.21,223.36 L649.53,218.97 L649.84,224.98 L650.15,215.84 L650.46,223.00 L650.77,217.92 L651.08,224.77 L651.39,219.47 L651.70,223.66 L652.01,219.22 L652.32,223.74 L652.63,219.03 L652.94,225.84 L653.25,217.69 L653.57,224.14 L653.88,217.09 L654.19,223.66 L654.50,218.47 L654.81,223.58 L655.12,217.50 L655.43,224.99 L655.74,217.08 L656.05,223.49 L656.36,216.80 L656.67,224.47 L656.98,218.35 L657.30,222.38 L657.61,219.33 L657.92,224.47 L658.23,219.47 L658.54,222.59 L658.85,218.28 L659.16,222.61 L659.47,218.86 L659.78,222.84 L660.09,218.23 L660.40,221.70 L660.71,219.39 L661.02,222.92 L661.34,217.95 L661.65,222.55 L661.96,215.94 L662.27,224.03 L662.58,217.70 L662.89,227.74 L663.20,217.98 L663.51,226.29 L663.82,218.74 L664.13,222.75 L664.44,219.35 L664.75,222.10 L665.06,219.11 L665.38,222.15 L665.69,217.56 L666.00,221.68 L666.31,218.10 L666.62,222.13 L666.93,218.86 L667.24,222.67 L667.55,219.44 L667.86,222.26 L668.17,219.38 L668.48,223.16 L668.79,214.89 L669.10,230.01 L669.42,217.40 L669.73,222.41 L670.04,219.27 L670.35,223.02 L670.66,218.34 L670.97,222.68 L671.28,219.04 L671.59,222.85 L671.90,217.56 L672.21,222.80 L672.52,218.86 L672.83,221.81 L673.14,218.43 L673.46,222.12 L673.77,217.79 L674.08,221.77 L674.39,219.14 L674.70,222.04 L675.01,218.79 L675.32,223.99 L675.63,216.64 L675.94,224.01 L676.25,217.76 L676.56,223.31 L676.87,218.73 L677.18,222.47 L677.50,219.16 L677.81,221.71 L678.12,218.95 L678.43,221.92 L678.74,219.38 L679.05,222.11 L679.36,217.25 L679.67,224.20 L679.98,217.59 L680.29,222.00 L680.60,218.86 L680.91,226.32 L681.22,218.82 L681.54,223.41 L681.85,218.49 L682.16,223.61 L682.47,217.81 L682.78,223.07 L683.09,217.51 L683.40,222.92" fill="none" stroke="#111" stroke-width="0.85" stroke-linejoin="round" stroke-linecap="round" />
<line x1="572.4" y1="203.6" x2="572.4" y2="232.6" stroke="#111" stroke-width="0.9"/><line x1="573.9" y1="208.6" x2="573.9" y2="233.6" stroke="#111" stroke-width="0.9"/><line x1="575.4" y1="200.6" x2="575.4" y2="232.6" stroke="#111" stroke-width="0.9"/><line x1="577.4" y1="207.6" x2="577.4" y2="232.6" stroke="#111" stroke-width="0.9"/><line x1="579.4" y1="205.6" x2="579.4" y2="234.6" stroke="#111" stroke-width="0.9"/><line x1="581.9" y1="208.6" x2="581.9" y2="233.6" stroke="#111" stroke-width="0.9"/><line x1="584.4" y1="205.6" x2="584.4" y2="236.6" stroke="#111" stroke-width="0.9"/><line x1="586.4" y1="208.6" x2="586.4" y2="234.6" stroke="#111" stroke-width="0.9"/><line x1="588.4" y1="206.6" x2="588.4" y2="235.6" stroke="#111" stroke-width="0.9"/><line x1="590.4" y1="208.6" x2="590.4" y2="232.6" stroke="#111" stroke-width="0.9"/><line x1="592.4" y1="204.6" x2="592.4" y2="235.6" stroke="#111" stroke-width="0.9"/><line x1="594.4" y1="207.6" x2="594.4" y2="234.6" stroke="#111" stroke-width="0.9"/><line x1="596.4" y1="207.6" x2="596.4" y2="234.6" stroke="#111" stroke-width="0.9"/><line x1="598.4" y1="206.6" x2="598.4" y2="231.6" stroke="#111" stroke-width="0.9"/><line x1="600.4" y1="205.6" x2="600.4" y2="232.6" stroke="#111" stroke-width="0.9"/><line x1="603.4" y1="202.6" x2="603.4" y2="234.6" stroke="#111" stroke-width="0.9"/><line x1="604.9" y1="208.6" x2="604.9" y2="232.6" stroke="#111" stroke-width="0.9"/><line x1="606.4" y1="205.6" x2="606.4" y2="232.6" stroke="#111" stroke-width="0.9"/><line x1="613.1999999999999" y1="207.6" x2="613.1999999999999" y2="232.6" stroke="#111" stroke-width="0.9"/><line x1="645.9" y1="205.6" x2="645.9" y2="235.6" stroke="#111" stroke-width="0.9"/>
</svg>
</body></html>
